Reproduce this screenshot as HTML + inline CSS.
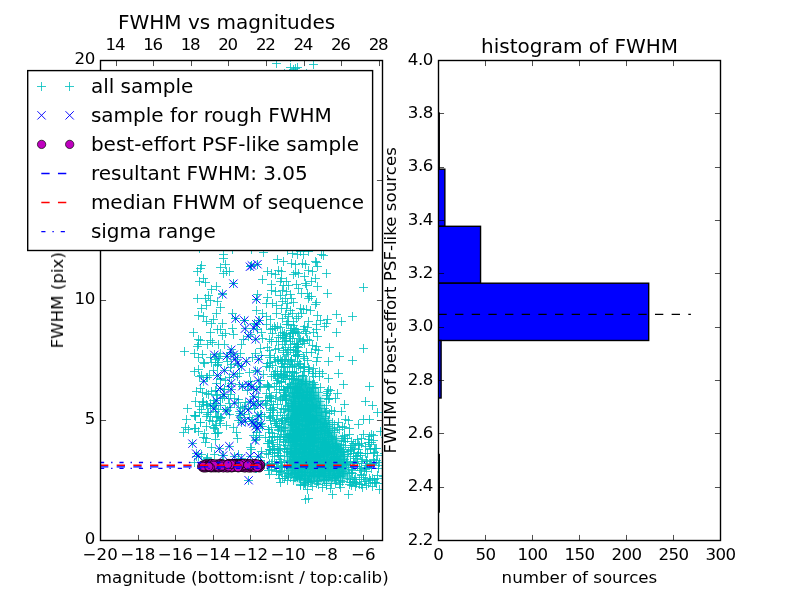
<!DOCTYPE html>
<html lang="en"><head><meta charset="utf-8"><title>FWHM vs magnitudes</title>
<style>html,body{margin:0;padding:0;background:#fff;overflow:hidden}svg text{font-family:'DejaVu Sans','Liberation Sans',sans-serif}</style></head>
<body>
<svg width="800" height="600" viewBox="0 0 800 600" style="display:block">
<rect x="0" y="0" width="800" height="600" fill="#fff"/>
<defs><clipPath id="c1"><rect x="100.50" y="60.50" width="282.00" height="480.00"/></clipPath><clipPath id="c2"><rect x="438.50" y="60.50" width="282.00" height="480.00"/></clipPath><filter id="bl" x="-20%" y="-20%" width="140%" height="140%"><feGaussianBlur stdDeviation="2.2"/></filter></defs>
<g clip-path="url(#c1)">
<path d="M288 396L290 383L300 376L312 383L320 396L325 413L334 432L343 450L348 462L349 478L330 482L296 481L287 473Z" fill="#00bfbf" opacity="0.95" filter="url(#bl)"/>
<path d="M272.0 63.5h9M276.5 59.0v9M309.0 64.5h9M313.5 60.0v9M286.0 67.5h9M290.5 63.0v9M291.0 68.5h9M295.5 64.0v9M293.0 67.5h9M297.5 63.0v9M289.0 69.5h9M293.5 65.0v9M280.0 73.5h9M284.5 69.0v9M302.0 73.5h9M306.5 69.0v9M286.0 57.5h9M290.5 53.0v9M197.0 265.5h9M201.5 261.0v9M193.0 271.5h9M197.5 267.0v9M196.0 268.5h9M200.5 264.0v9M219.0 254.5h9M223.5 250.0v9M219.0 258.5h9M223.5 254.0v9M216.0 267.5h9M220.5 263.0v9M221.0 264.5h9M225.5 260.0v9M219.0 273.5h9M223.5 269.0v9M222.0 271.5h9M226.5 267.0v9M225.0 271.5h9M229.5 267.0v9M195.0 281.5h9M199.5 277.0v9M199.0 278.5h9M203.5 274.0v9M201.0 282.5h9M205.5 278.0v9M212.0 286.5h9M216.5 282.0v9M207.0 289.5h9M211.5 285.0v9M193.0 298.5h9M197.5 294.0v9M201.0 298.5h9M205.5 294.0v9M204.0 295.5h9M208.5 291.0v9M206.0 300.5h9M210.5 296.0v9M202.0 305.5h9M206.5 301.0v9M197.0 308.5h9M201.5 304.0v9M194.0 315.5h9M198.5 311.0v9M199.0 316.5h9M203.5 312.0v9M213.0 301.5h9M217.5 297.0v9M216.0 307.5h9M220.5 303.0v9M212.0 313.5h9M216.5 309.0v9M209.0 319.5h9M213.5 315.0v9M202.0 321.5h9M206.5 317.0v9M218.0 293.5h9M222.5 289.0v9M229.0 283.5h9M233.5 279.0v9M228.0 313.5h9M232.5 309.0v9M231.0 318.5h9M235.5 314.0v9M246.0 266.5h9M250.5 262.0v9M253.0 264.5h9M257.5 260.0v9M259.0 252.5h9M263.5 248.0v9M273.0 259.5h9M277.5 255.0v9M263.0 271.5h9M267.5 267.0v9M267.0 273.5h9M271.5 269.0v9M271.0 274.5h9M275.5 270.0v9M274.0 270.5h9M278.5 266.0v9M258.0 279.5h9M262.5 275.0v9M267.0 284.5h9M271.5 280.0v9M267.0 290.5h9M271.5 286.0v9M271.0 291.5h9M275.5 287.0v9M253.0 294.5h9M257.5 290.0v9M252.0 299.5h9M256.5 295.0v9M263.0 297.5h9M267.5 293.0v9M262.0 303.5h9M266.5 299.0v9M268.0 303.5h9M272.5 299.0v9M272.0 305.5h9M276.5 301.0v9M252.0 310.5h9M256.5 306.0v9M258.0 313.5h9M262.5 309.0v9M262.0 316.5h9M266.5 312.0v9M266.0 319.5h9M270.5 315.0v9M272.0 313.5h9M276.5 309.0v9M240.0 320.5h9M244.5 316.0v9M254.0 320.5h9M258.5 316.0v9M195.0 248.5h9M199.5 244.0v9M247.0 265.5h9M251.5 261.0v9M228.0 249.5h9M232.5 245.0v9M247.0 249.5h9M251.5 245.0v9M293.0 254.5h9M297.5 250.0v9M299.0 254.5h9M303.5 250.0v9M296.0 251.5h9M300.5 247.0v9M317.0 254.5h9M321.5 250.0v9M319.0 255.5h9M323.5 251.0v9M279.0 261.5h9M283.5 257.0v9M287.0 263.5h9M291.5 259.0v9M291.0 264.5h9M295.5 260.0v9M298.0 263.5h9M302.5 259.0v9M301.0 264.5h9M305.5 260.0v9M311.0 261.5h9M315.5 257.0v9M312.0 262.5h9M316.5 258.0v9M313.0 266.5h9M317.5 262.0v9M277.0 271.5h9M281.5 267.0v9M291.0 272.5h9M295.5 268.0v9M289.0 274.5h9M293.5 270.0v9M294.0 273.5h9M298.5 269.0v9M304.0 270.5h9M308.5 266.0v9M308.0 271.5h9M312.5 267.0v9M300.0 276.5h9M304.5 272.0v9M322.0 273.5h9M326.5 269.0v9M311.0 278.5h9M315.5 274.0v9M307.0 281.5h9M311.5 277.0v9M276.0 281.5h9M280.5 277.0v9M282.0 281.5h9M286.5 277.0v9M279.0 285.5h9M283.5 281.0v9M284.0 285.5h9M288.5 281.0v9M292.0 284.5h9M296.5 280.0v9M294.0 288.5h9M298.5 284.0v9M301.0 283.5h9M305.5 279.0v9M302.0 285.5h9M306.5 281.0v9M313.0 286.5h9M317.5 282.0v9M359.0 287.5h9M363.5 283.0v9M323.0 293.5h9M327.5 289.0v9M278.0 290.5h9M282.5 286.0v9M282.0 291.5h9M286.5 287.0v9M286.0 294.5h9M290.5 290.0v9M287.0 298.5h9M291.5 294.0v9M281.0 298.5h9M285.5 294.0v9M278.0 301.5h9M282.5 297.0v9M283.0 303.5h9M287.5 299.0v9M289.0 302.5h9M293.5 298.0v9M297.0 293.5h9M301.5 289.0v9M303.0 293.5h9M307.5 289.0v9M305.0 296.5h9M309.5 292.0v9M307.0 296.5h9M311.5 292.0v9M304.0 298.5h9M308.5 294.0v9M312.0 302.5h9M316.5 298.0v9M311.0 304.5h9M315.5 300.0v9M277.0 308.5h9M281.5 304.0v9M282.0 308.5h9M286.5 304.0v9M286.0 310.5h9M290.5 306.0v9M281.0 314.5h9M285.5 310.0v9M278.0 318.5h9M282.5 314.0v9M284.0 316.5h9M288.5 312.0v9M288.0 313.5h9M292.5 309.0v9M296.0 308.5h9M300.5 304.0v9M299.0 309.5h9M303.5 305.0v9M302.0 309.5h9M306.5 305.0v9M297.0 313.5h9M301.5 309.0v9M294.0 316.5h9M298.5 312.0v9M306.0 310.5h9M310.5 306.0v9M313.0 315.5h9M317.5 311.0v9M332.0 314.5h9M336.5 310.0v9M348.0 316.5h9M352.5 312.0v9M316.0 320.5h9M320.5 316.0v9M323.0 319.5h9M327.5 315.0v9M337.0 321.5h9M341.5 317.0v9M304.0 321.5h9M308.5 317.0v9M283.0 250.5h9M287.5 246.0v9M288.0 253.5h9M292.5 249.0v9M304.0 251.5h9M308.5 247.0v9M277.0 278.5h9M281.5 274.0v9M276.0 295.5h9M280.5 291.0v9M292.0 318.5h9M296.5 314.0v9M289.0 321.5h9M293.5 317.0v9M283.0 321.5h9M287.5 317.0v9M189.0 332.5h9M193.5 328.0v9M206.0 332.5h9M210.5 328.0v9M213.0 329.5h9M217.5 325.0v9M207.0 323.5h9M211.5 319.0v9M216.0 329.5h9M220.5 325.0v9M221.0 333.5h9M225.5 329.0v9M218.0 323.5h9M222.5 319.0v9M229.0 334.5h9M233.5 330.0v9M228.0 328.5h9M232.5 324.0v9M250.0 323.5h9M254.5 319.0v9M246.0 334.5h9M250.5 330.0v9M253.0 329.5h9M257.5 325.0v9M262.0 324.5h9M266.5 320.0v9M257.0 332.5h9M261.5 328.0v9M271.0 328.5h9M275.5 324.0v9M266.0 329.5h9M270.5 325.0v9M268.0 328.5h9M272.5 324.0v9M268.0 333.5h9M272.5 329.0v9M273.0 326.5h9M277.5 322.0v9M270.0 326.5h9M274.5 322.0v9M194.0 339.5h9M198.5 335.0v9M196.0 340.5h9M200.5 336.0v9M194.0 344.5h9M198.5 340.0v9M193.0 346.5h9M197.5 342.0v9M203.0 344.5h9M207.5 340.0v9M206.0 340.5h9M210.5 336.0v9M208.0 342.5h9M212.5 338.0v9M218.0 335.5h9M222.5 331.0v9M214.0 344.5h9M218.5 340.0v9M220.0 344.5h9M224.5 340.0v9M237.0 344.5h9M241.5 340.0v9M239.0 339.5h9M243.5 335.0v9M258.0 338.5h9M262.5 334.0v9M263.0 347.5h9M267.5 343.0v9M274.0 341.5h9M278.5 337.0v9M274.0 337.5h9M278.5 333.0v9M267.0 341.5h9M271.5 337.0v9M272.0 341.5h9M276.5 337.0v9M265.0 339.5h9M269.5 335.0v9M180.0 351.5h9M184.5 347.0v9M190.0 353.5h9M194.5 349.0v9M194.0 357.5h9M198.5 353.0v9M198.0 354.5h9M202.5 350.0v9M206.0 357.5h9M210.5 353.0v9M212.0 356.5h9M216.5 352.0v9M211.0 359.5h9M215.5 355.0v9M214.0 358.5h9M218.5 354.0v9M216.0 353.5h9M220.5 349.0v9M223.0 356.5h9M227.5 352.0v9M215.0 356.5h9M219.5 352.0v9M226.0 352.5h9M230.5 348.0v9M236.0 353.5h9M240.5 349.0v9M233.0 357.5h9M237.5 353.0v9M248.0 357.5h9M252.5 353.0v9M251.0 353.5h9M255.5 349.0v9M256.0 348.5h9M260.5 344.0v9M257.0 355.5h9M261.5 351.0v9M273.0 359.5h9M277.5 355.0v9M265.0 350.5h9M269.5 346.0v9M271.0 349.5h9M275.5 345.0v9M266.0 355.5h9M270.5 351.0v9M265.0 357.5h9M269.5 353.0v9M274.0 348.5h9M278.5 344.0v9M270.0 357.5h9M274.5 353.0v9M200.0 363.5h9M204.5 359.0v9M190.0 371.5h9M194.5 367.0v9M199.0 362.5h9M203.5 358.0v9M194.0 369.5h9M198.5 365.0v9M211.0 362.5h9M215.5 358.0v9M209.0 370.5h9M213.5 366.0v9M207.0 362.5h9M211.5 358.0v9M213.0 364.5h9M217.5 360.0v9M223.0 361.5h9M227.5 357.0v9M213.0 365.5h9M217.5 361.0v9M214.0 362.5h9M218.5 358.0v9M226.0 367.5h9M230.5 363.0v9M234.0 365.5h9M238.5 361.0v9M227.0 364.5h9M231.5 360.0v9M245.0 372.5h9M249.5 368.0v9M263.0 363.5h9M267.5 359.0v9M251.0 370.5h9M255.5 366.0v9M262.0 366.5h9M266.5 362.0v9M273.0 371.5h9M277.5 367.0v9M271.0 371.5h9M275.5 367.0v9M263.0 363.5h9M267.5 359.0v9M266.0 362.5h9M270.5 358.0v9M274.0 360.5h9M278.5 356.0v9M271.0 361.5h9M275.5 357.0v9M268.0 365.5h9M272.5 361.0v9M265.0 367.5h9M269.5 363.0v9M195.0 376.5h9M199.5 372.0v9M197.0 375.5h9M201.5 371.0v9M203.0 377.5h9M207.5 373.0v9M205.0 375.5h9M209.5 371.0v9M212.0 383.5h9M216.5 379.0v9M202.0 377.5h9M206.5 373.0v9M216.0 378.5h9M220.5 374.0v9M216.0 379.5h9M220.5 375.0v9M225.0 377.5h9M229.5 373.0v9M221.0 380.5h9M225.5 376.0v9M235.0 373.5h9M239.5 369.0v9M235.0 384.5h9M239.5 380.0v9M233.0 376.5h9M237.5 372.0v9M246.0 381.5h9M250.5 377.0v9M259.0 374.5h9M263.5 370.0v9M263.0 384.5h9M267.5 380.0v9M256.0 380.5h9M260.5 376.0v9M263.0 385.5h9M267.5 381.0v9M273.0 380.5h9M277.5 376.0v9M273.0 375.5h9M277.5 371.0v9M267.0 376.5h9M271.5 372.0v9M270.0 374.5h9M274.5 370.0v9M274.0 378.5h9M278.5 374.0v9M269.0 374.5h9M273.5 370.0v9M272.0 383.5h9M276.5 379.0v9M271.0 376.5h9M275.5 372.0v9M273.0 374.5h9M277.5 370.0v9M198.0 392.5h9M202.5 388.0v9M192.0 391.5h9M196.5 387.0v9M196.0 388.5h9M200.5 384.0v9M211.0 390.5h9M215.5 386.0v9M212.0 395.5h9M216.5 391.0v9M202.0 393.5h9M206.5 389.0v9M204.0 394.5h9M208.5 390.0v9M207.0 391.5h9M211.5 387.0v9M224.0 386.5h9M228.5 382.0v9M220.0 389.5h9M224.5 385.0v9M213.0 394.5h9M217.5 390.0v9M220.0 396.5h9M224.5 392.0v9M220.0 389.5h9M224.5 385.0v9M238.0 386.5h9M242.5 382.0v9M226.0 394.5h9M230.5 390.0v9M243.0 390.5h9M247.5 386.0v9M249.0 389.5h9M253.5 385.0v9M262.0 393.5h9M266.5 389.0v9M255.0 386.5h9M259.5 382.0v9M254.0 397.5h9M258.5 393.0v9M256.0 387.5h9M260.5 383.0v9M267.0 396.5h9M271.5 392.0v9M265.0 395.5h9M269.5 391.0v9M265.0 397.5h9M269.5 393.0v9M270.0 386.5h9M274.5 382.0v9M275.0 389.5h9M279.5 385.0v9M272.0 392.5h9M276.5 388.0v9M264.0 386.5h9M268.5 382.0v9M265.0 387.5h9M269.5 383.0v9M264.0 386.5h9M268.5 382.0v9M275.0 386.5h9M279.5 382.0v9M282.0 324.5h9M286.5 320.0v9M278.0 332.5h9M282.5 328.0v9M287.0 328.5h9M291.5 324.0v9M276.0 335.5h9M280.5 331.0v9M276.0 327.5h9M280.5 323.0v9M282.0 334.5h9M286.5 330.0v9M286.0 330.5h9M290.5 326.0v9M280.0 333.5h9M284.5 329.0v9M286.0 333.5h9M290.5 329.0v9M284.0 324.5h9M288.5 320.0v9M292.0 329.5h9M296.5 325.0v9M294.0 333.5h9M298.5 329.0v9M291.0 331.5h9M295.5 327.0v9M293.0 332.5h9M297.5 328.0v9M290.0 328.5h9M294.5 324.0v9M289.0 325.5h9M293.5 321.0v9M300.0 326.5h9M304.5 322.0v9M299.0 329.5h9M303.5 325.0v9M288.0 332.5h9M292.5 328.0v9M289.0 333.5h9M293.5 329.0v9M301.0 331.5h9M305.5 327.0v9M303.0 327.5h9M307.5 323.0v9M312.0 329.5h9M316.5 325.0v9M309.0 332.5h9M313.5 328.0v9M302.0 333.5h9M306.5 329.0v9M312.0 324.5h9M316.5 320.0v9M320.0 326.5h9M324.5 322.0v9M322.0 323.5h9M326.5 319.0v9M332.0 332.5h9M336.5 328.0v9M285.0 336.5h9M289.5 332.0v9M286.0 338.5h9M290.5 334.0v9M286.0 341.5h9M290.5 337.0v9M278.0 344.5h9M282.5 340.0v9M286.0 344.5h9M290.5 340.0v9M288.0 338.5h9M292.5 334.0v9M278.0 337.5h9M282.5 333.0v9M282.0 340.5h9M286.5 336.0v9M280.0 341.5h9M284.5 337.0v9M279.0 335.5h9M283.5 331.0v9M281.0 338.5h9M285.5 334.0v9M281.0 347.5h9M285.5 343.0v9M290.0 343.5h9M294.5 339.0v9M296.0 339.5h9M300.5 335.0v9M294.0 347.5h9M298.5 343.0v9M292.0 344.5h9M296.5 340.0v9M299.0 340.5h9M303.5 336.0v9M300.0 343.5h9M304.5 339.0v9M294.0 344.5h9M298.5 340.0v9M293.0 344.5h9M297.5 340.0v9M291.0 347.5h9M295.5 343.0v9M295.0 338.5h9M299.5 334.0v9M293.0 346.5h9M297.5 342.0v9M298.0 341.5h9M302.5 337.0v9M305.0 340.5h9M309.5 336.0v9M313.0 336.5h9M317.5 332.0v9M312.0 346.5h9M316.5 342.0v9M303.0 339.5h9M307.5 335.0v9M308.0 345.5h9M312.5 341.0v9M325.0 347.5h9M329.5 343.0v9M279.0 350.5h9M283.5 346.0v9M282.0 354.5h9M286.5 350.0v9M284.0 349.5h9M288.5 345.0v9M284.0 359.5h9M288.5 355.0v9M287.0 359.5h9M291.5 355.0v9M287.0 360.5h9M291.5 356.0v9M276.0 359.5h9M280.5 355.0v9M279.0 352.5h9M283.5 348.0v9M281.0 359.5h9M285.5 355.0v9M283.0 352.5h9M287.5 348.0v9M280.0 359.5h9M284.5 355.0v9M286.0 349.5h9M290.5 345.0v9M291.0 352.5h9M295.5 348.0v9M291.0 355.5h9M295.5 351.0v9M291.0 355.5h9M295.5 351.0v9M300.0 358.5h9M304.5 354.0v9M289.0 350.5h9M293.5 346.0v9M293.0 356.5h9M297.5 352.0v9M293.0 351.5h9M297.5 347.0v9M292.0 350.5h9M296.5 346.0v9M299.0 356.5h9M303.5 352.0v9M293.0 356.5h9M297.5 352.0v9M294.0 354.5h9M298.5 350.0v9M293.0 354.5h9M297.5 350.0v9M313.0 357.5h9M317.5 353.0v9M311.0 349.5h9M315.5 345.0v9M307.0 352.5h9M311.5 348.0v9M302.0 352.5h9M306.5 348.0v9M314.0 350.5h9M318.5 346.0v9M335.0 356.5h9M339.5 352.0v9M359.0 348.5h9M363.5 344.0v9M278.0 360.5h9M282.5 356.0v9M277.0 361.5h9M281.5 357.0v9M288.0 371.5h9M292.5 367.0v9M278.0 363.5h9M282.5 359.0v9M288.0 367.5h9M292.5 363.0v9M280.0 366.5h9M284.5 362.0v9M279.0 367.5h9M283.5 363.0v9M285.0 366.5h9M289.5 362.0v9M286.0 361.5h9M290.5 357.0v9M283.0 372.5h9M287.5 368.0v9M277.0 366.5h9M281.5 362.0v9M283.0 364.5h9M287.5 360.0v9M288.0 366.5h9M292.5 362.0v9M281.0 371.5h9M285.5 367.0v9M288.0 371.5h9M292.5 367.0v9M290.0 365.5h9M294.5 361.0v9M294.0 366.5h9M298.5 362.0v9M288.0 364.5h9M292.5 360.0v9M292.0 372.5h9M296.5 368.0v9M299.0 367.5h9M303.5 363.0v9M300.0 371.5h9M304.5 367.0v9M293.0 361.5h9M297.5 357.0v9M296.0 364.5h9M300.5 360.0v9M288.0 372.5h9M292.5 368.0v9M300.0 367.5h9M304.5 363.0v9M296.0 368.5h9M300.5 364.0v9M300.0 366.5h9M304.5 362.0v9M295.0 363.5h9M299.5 359.0v9M304.0 367.5h9M308.5 363.0v9M303.0 360.5h9M307.5 356.0v9M305.0 369.5h9M309.5 365.0v9M304.0 371.5h9M308.5 367.0v9M309.0 368.5h9M313.5 364.0v9M312.0 361.5h9M316.5 357.0v9M315.0 371.5h9M319.5 367.0v9M324.0 361.5h9M328.5 357.0v9M348.0 360.5h9M352.5 356.0v9M277.0 374.5h9M281.5 370.0v9M279.0 377.5h9M283.5 373.0v9M287.0 378.5h9M291.5 374.0v9M277.0 376.5h9M281.5 372.0v9M276.0 373.5h9M280.5 369.0v9M281.0 379.5h9M285.5 375.0v9M279.0 377.5h9M283.5 373.0v9M277.0 381.5h9M281.5 377.0v9M280.0 375.5h9M284.5 371.0v9M282.0 375.5h9M286.5 371.0v9M279.0 374.5h9M283.5 370.0v9M285.0 376.5h9M289.5 372.0v9M287.0 378.5h9M291.5 374.0v9M277.0 381.5h9M281.5 377.0v9M285.0 384.5h9M289.5 380.0v9M277.0 382.5h9M281.5 378.0v9M299.0 376.5h9M303.5 372.0v9M294.0 380.5h9M298.5 376.0v9M291.0 383.5h9M295.5 379.0v9M297.0 383.5h9M301.5 379.0v9M294.0 379.5h9M298.5 375.0v9M290.0 376.5h9M294.5 372.0v9M297.0 384.5h9M301.5 380.0v9M290.0 373.5h9M294.5 369.0v9M289.0 378.5h9M293.5 374.0v9M298.0 375.5h9M302.5 371.0v9M294.0 379.5h9M298.5 375.0v9M298.0 375.5h9M302.5 371.0v9M288.0 379.5h9M292.5 375.0v9M292.0 376.5h9M296.5 372.0v9M298.0 381.5h9M302.5 377.0v9M289.0 379.5h9M293.5 375.0v9M310.0 384.5h9M314.5 380.0v9M301.0 383.5h9M305.5 379.0v9M301.0 381.5h9M305.5 377.0v9M308.0 384.5h9M312.5 380.0v9M308.0 373.5h9M312.5 369.0v9M309.0 376.5h9M313.5 372.0v9M311.0 373.5h9M315.5 369.0v9M305.0 381.5h9M309.5 377.0v9M302.0 381.5h9M306.5 377.0v9M309.0 382.5h9M313.5 378.0v9M324.0 378.5h9M328.5 374.0v9M315.0 376.5h9M319.5 372.0v9M318.0 373.5h9M322.5 369.0v9M334.0 373.5h9M338.5 369.0v9M339.0 384.5h9M343.5 380.0v9M286.0 388.5h9M290.5 384.0v9M280.0 395.5h9M284.5 391.0v9M283.0 388.5h9M287.5 384.0v9M281.0 396.5h9M285.5 392.0v9M276.0 397.5h9M280.5 393.0v9M283.0 387.5h9M287.5 383.0v9M286.0 386.5h9M290.5 382.0v9M281.0 392.5h9M285.5 388.0v9M279.0 396.5h9M283.5 392.0v9M284.0 387.5h9M288.5 383.0v9M277.0 386.5h9M281.5 382.0v9M283.0 387.5h9M287.5 383.0v9M282.0 395.5h9M286.5 391.0v9M286.0 386.5h9M290.5 382.0v9M280.0 390.5h9M284.5 386.0v9M280.0 390.5h9M284.5 386.0v9M281.0 394.5h9M285.5 390.0v9M279.0 389.5h9M283.5 385.0v9M293.0 387.5h9M297.5 383.0v9M296.0 390.5h9M300.5 386.0v9M299.0 395.5h9M303.5 391.0v9M291.0 388.5h9M295.5 384.0v9M298.0 392.5h9M302.5 388.0v9M288.0 393.5h9M292.5 389.0v9M293.0 395.5h9M297.5 391.0v9M297.0 397.5h9M301.5 393.0v9M297.0 396.5h9M301.5 392.0v9M292.0 389.5h9M296.5 385.0v9M289.0 396.5h9M293.5 392.0v9M290.0 392.5h9M294.5 388.0v9M294.0 395.5h9M298.5 391.0v9M293.0 387.5h9M297.5 383.0v9M293.0 386.5h9M297.5 382.0v9M292.0 393.5h9M296.5 389.0v9M289.0 397.5h9M293.5 393.0v9M295.0 389.5h9M299.5 385.0v9M311.0 387.5h9M315.5 383.0v9M305.0 397.5h9M309.5 393.0v9M303.0 394.5h9M307.5 390.0v9M302.0 392.5h9M306.5 388.0v9M309.0 388.5h9M313.5 384.0v9M305.0 392.5h9M309.5 388.0v9M308.0 387.5h9M312.5 383.0v9M306.0 397.5h9M310.5 393.0v9M305.0 395.5h9M309.5 391.0v9M303.0 391.5h9M307.5 387.0v9M307.0 392.5h9M311.5 388.0v9M309.0 395.5h9M313.5 391.0v9M322.0 395.5h9M326.5 391.0v9M324.0 389.5h9M328.5 385.0v9M323.0 391.5h9M327.5 387.0v9M316.0 387.5h9M320.5 383.0v9M323.0 393.5h9M327.5 389.0v9M314.0 392.5h9M318.5 388.0v9M326.0 390.5h9M330.5 386.0v9M333.0 393.5h9M337.5 389.0v9M365.0 386.5h9M369.5 382.0v9M183.0 408.5h9M187.5 404.0v9M198.0 402.5h9M202.5 398.0v9M195.0 406.5h9M199.5 402.0v9M199.0 404.5h9M203.5 400.0v9M199.0 401.5h9M203.5 397.0v9M191.0 401.5h9M195.5 397.0v9M197.0 409.5h9M201.5 405.0v9M206.0 406.5h9M210.5 402.0v9M202.0 404.5h9M206.5 400.0v9M206.0 403.5h9M210.5 399.0v9M203.0 405.5h9M207.5 401.0v9M209.0 405.5h9M213.5 401.0v9M210.0 403.5h9M214.5 399.0v9M211.0 405.5h9M215.5 401.0v9M212.0 403.5h9M216.5 399.0v9M209.0 400.5h9M213.5 396.0v9M214.0 409.5h9M218.5 405.0v9M218.0 398.5h9M222.5 394.0v9M221.0 409.5h9M225.5 405.0v9M223.0 410.5h9M227.5 406.0v9M225.0 403.5h9M229.5 399.0v9M216.0 398.5h9M220.5 394.0v9M216.0 405.5h9M220.5 401.0v9M224.0 398.5h9M228.5 394.0v9M236.0 407.5h9M240.5 403.0v9M234.0 399.5h9M238.5 395.0v9M226.0 407.5h9M230.5 403.0v9M234.0 402.5h9M238.5 398.0v9M230.0 398.5h9M234.5 394.0v9M238.0 408.5h9M242.5 404.0v9M250.0 408.5h9M254.5 404.0v9M244.0 408.5h9M248.5 404.0v9M240.0 406.5h9M244.5 402.0v9M241.0 402.5h9M245.5 398.0v9M261.0 403.5h9M265.5 399.0v9M262.0 405.5h9M266.5 401.0v9M254.0 401.5h9M258.5 397.0v9M251.0 405.5h9M255.5 401.0v9M261.0 400.5h9M265.5 396.0v9M269.0 410.5h9M273.5 406.0v9M268.0 409.5h9M272.5 405.0v9M273.0 404.5h9M277.5 400.0v9M271.0 398.5h9M275.5 394.0v9M269.0 407.5h9M273.5 403.0v9M266.0 398.5h9M270.5 394.0v9M263.0 400.5h9M267.5 396.0v9M266.0 408.5h9M270.5 404.0v9M269.0 404.5h9M273.5 400.0v9M267.0 401.5h9M271.5 397.0v9M182.0 419.5h9M186.5 415.0v9M190.0 415.5h9M194.5 411.0v9M196.0 422.5h9M200.5 418.0v9M191.0 415.5h9M195.5 411.0v9M195.0 412.5h9M199.5 408.0v9M196.0 422.5h9M200.5 418.0v9M191.0 416.5h9M195.5 412.0v9M202.0 416.5h9M206.5 412.0v9M213.0 417.5h9M217.5 413.0v9M203.0 414.5h9M207.5 410.0v9M208.0 421.5h9M212.5 417.0v9M206.0 416.5h9M210.5 412.0v9M211.0 411.5h9M215.5 407.0v9M212.0 416.5h9M216.5 412.0v9M205.0 420.5h9M209.5 416.0v9M204.0 412.5h9M208.5 408.0v9M216.0 418.5h9M220.5 414.0v9M214.0 416.5h9M218.5 412.0v9M216.0 417.5h9M220.5 413.0v9M215.0 420.5h9M219.5 416.0v9M225.0 414.5h9M229.5 410.0v9M217.0 417.5h9M221.5 413.0v9M235.0 411.5h9M239.5 407.0v9M234.0 420.5h9M238.5 416.0v9M235.0 415.5h9M239.5 411.0v9M236.0 417.5h9M240.5 413.0v9M240.0 414.5h9M244.5 410.0v9M245.0 417.5h9M249.5 413.0v9M248.0 419.5h9M252.5 415.0v9M253.0 415.5h9M257.5 411.0v9M260.0 416.5h9M264.5 412.0v9M253.0 422.5h9M257.5 418.0v9M256.0 414.5h9M260.5 410.0v9M257.0 414.5h9M261.5 410.0v9M266.0 418.5h9M270.5 414.0v9M273.0 415.5h9M277.5 411.0v9M265.0 416.5h9M269.5 412.0v9M268.0 415.5h9M272.5 411.0v9M266.0 420.5h9M270.5 416.0v9M266.0 410.5h9M270.5 406.0v9M272.0 419.5h9M276.5 415.0v9M266.0 412.5h9M270.5 408.0v9M270.0 421.5h9M274.5 417.0v9M266.0 417.5h9M270.5 413.0v9M179.0 432.5h9M183.5 428.0v9M181.0 427.5h9M185.5 423.0v9M184.0 429.5h9M188.5 425.0v9M191.0 428.5h9M195.5 424.0v9M200.0 433.5h9M204.5 429.0v9M194.0 431.5h9M198.5 427.0v9M190.0 428.5h9M194.5 424.0v9M212.0 425.5h9M216.5 421.0v9M213.0 433.5h9M217.5 429.0v9M209.0 427.5h9M213.5 423.0v9M202.0 426.5h9M206.5 422.0v9M210.0 428.5h9M214.5 424.0v9M211.0 425.5h9M215.5 421.0v9M211.0 433.5h9M215.5 429.0v9M222.0 425.5h9M226.5 421.0v9M216.0 423.5h9M220.5 419.0v9M214.0 432.5h9M218.5 428.0v9M232.0 432.5h9M236.5 428.0v9M229.0 427.5h9M233.5 423.0v9M249.0 435.5h9M253.5 431.0v9M252.0 432.5h9M256.5 428.0v9M257.0 423.5h9M261.5 419.0v9M258.0 426.5h9M262.5 422.0v9M255.0 435.5h9M259.5 431.0v9M272.0 423.5h9M276.5 419.0v9M272.0 423.5h9M276.5 419.0v9M274.0 430.5h9M278.5 426.0v9M271.0 423.5h9M275.5 419.0v9M264.0 429.5h9M268.5 425.0v9M268.0 433.5h9M272.5 429.0v9M267.0 427.5h9M271.5 423.0v9M264.0 429.5h9M268.5 425.0v9M275.0 426.5h9M279.5 422.0v9M273.0 425.5h9M277.5 421.0v9M274.0 429.5h9M278.5 425.0v9M265.0 432.5h9M269.5 428.0v9M199.0 437.5h9M203.5 433.0v9M202.0 438.5h9M206.5 434.0v9M207.0 447.5h9M211.5 443.0v9M211.0 439.5h9M215.5 435.0v9M201.0 442.5h9M205.5 438.0v9M233.0 438.5h9M237.5 434.0v9M246.0 447.5h9M250.5 443.0v9M252.0 439.5h9M256.5 435.0v9M261.0 437.5h9M265.5 433.0v9M252.0 437.5h9M256.5 433.0v9M273.0 437.5h9M277.5 433.0v9M264.0 443.5h9M268.5 439.0v9M273.0 444.5h9M277.5 440.0v9M268.0 446.5h9M272.5 442.0v9M265.0 441.5h9M269.5 437.0v9M268.0 442.5h9M272.5 438.0v9M265.0 437.5h9M269.5 433.0v9M275.0 439.5h9M279.5 435.0v9M269.0 446.5h9M273.5 442.0v9M267.0 440.5h9M271.5 436.0v9M270.0 436.5h9M274.5 432.0v9M263.0 443.5h9M267.5 439.0v9M268.0 436.5h9M272.5 432.0v9M192.0 456.5h9M196.5 452.0v9M197.0 454.5h9M201.5 450.0v9M203.0 458.5h9M207.5 454.0v9M203.0 457.5h9M207.5 453.0v9M202.0 459.5h9M206.5 455.0v9M210.0 454.5h9M214.5 450.0v9M218.0 455.5h9M222.5 451.0v9M234.0 454.5h9M238.5 450.0v9M247.0 449.5h9M251.5 445.0v9M256.0 457.5h9M260.5 453.0v9M256.0 460.5h9M260.5 456.0v9M257.0 451.5h9M261.5 447.0v9M262.0 453.5h9M266.5 449.0v9M270.0 456.5h9M274.5 452.0v9M274.0 450.5h9M278.5 446.0v9M274.0 455.5h9M278.5 451.0v9M268.0 452.5h9M272.5 448.0v9M275.0 459.5h9M279.5 455.0v9M270.0 452.5h9M274.5 448.0v9M275.0 448.5h9M279.5 444.0v9M264.0 454.5h9M268.5 450.0v9M270.0 448.5h9M274.5 444.0v9M265.0 449.5h9M269.5 445.0v9M266.0 450.5h9M270.5 446.0v9M265.0 449.5h9M269.5 445.0v9M268.0 449.5h9M272.5 445.0v9M273.0 453.5h9M277.5 449.0v9M252.0 468.5h9M256.5 464.0v9M260.0 464.5h9M264.5 460.0v9M251.0 468.5h9M255.5 464.0v9M272.0 471.5h9M276.5 467.0v9M272.0 467.5h9M276.5 463.0v9M267.0 463.5h9M271.5 459.0v9M264.0 470.5h9M268.5 466.0v9M270.0 464.5h9M274.5 460.0v9M265.0 464.5h9M269.5 460.0v9M272.0 463.5h9M276.5 459.0v9M264.0 465.5h9M268.5 461.0v9M267.0 469.5h9M271.5 465.0v9M270.0 466.5h9M274.5 462.0v9M275.0 471.5h9M279.5 467.0v9M265.0 463.5h9M269.5 459.0v9M268.0 461.5h9M272.5 457.0v9M272.0 470.5h9M276.5 466.0v9M279.0 409.5h9M283.5 405.0v9M282.0 400.5h9M286.5 396.0v9M283.0 406.5h9M287.5 402.0v9M284.0 410.5h9M288.5 406.0v9M287.0 403.5h9M291.5 399.0v9M281.0 398.5h9M285.5 394.0v9M281.0 400.5h9M285.5 396.0v9M277.0 408.5h9M281.5 404.0v9M276.0 399.5h9M280.5 395.0v9M284.0 405.5h9M288.5 401.0v9M281.0 408.5h9M285.5 404.0v9M278.0 400.5h9M282.5 396.0v9M282.0 399.5h9M286.5 395.0v9M284.0 409.5h9M288.5 405.0v9M298.0 409.5h9M302.5 405.0v9M289.0 403.5h9M293.5 399.0v9M299.0 408.5h9M303.5 404.0v9M295.0 406.5h9M299.5 402.0v9M291.0 401.5h9M295.5 397.0v9M289.0 409.5h9M293.5 405.0v9M292.0 410.5h9M296.5 406.0v9M288.0 407.5h9M292.5 403.0v9M295.0 398.5h9M299.5 394.0v9M296.0 406.5h9M300.5 402.0v9M297.0 406.5h9M301.5 402.0v9M296.0 407.5h9M300.5 403.0v9M293.0 409.5h9M297.5 405.0v9M294.0 401.5h9M298.5 397.0v9M300.0 401.5h9M304.5 397.0v9M294.0 406.5h9M298.5 402.0v9M298.0 401.5h9M302.5 397.0v9M288.0 405.5h9M292.5 401.0v9M295.0 407.5h9M299.5 403.0v9M291.0 408.5h9M295.5 404.0v9M298.0 408.5h9M302.5 404.0v9M297.0 406.5h9M301.5 402.0v9M295.0 408.5h9M299.5 404.0v9M291.0 406.5h9M295.5 402.0v9M298.0 407.5h9M302.5 403.0v9M290.0 401.5h9M294.5 397.0v9M312.0 407.5h9M316.5 403.0v9M302.0 404.5h9M306.5 400.0v9M311.0 408.5h9M315.5 404.0v9M307.0 399.5h9M311.5 395.0v9M303.0 398.5h9M307.5 394.0v9M303.0 398.5h9M307.5 394.0v9M309.0 406.5h9M313.5 402.0v9M306.0 409.5h9M310.5 405.0v9M302.0 400.5h9M306.5 396.0v9M308.0 404.5h9M312.5 400.0v9M302.0 409.5h9M306.5 405.0v9M308.0 405.5h9M312.5 401.0v9M305.0 405.5h9M309.5 401.0v9M301.0 401.5h9M305.5 397.0v9M308.0 405.5h9M312.5 401.0v9M307.0 398.5h9M311.5 394.0v9M305.0 410.5h9M309.5 406.0v9M312.0 408.5h9M316.5 404.0v9M301.0 398.5h9M305.5 394.0v9M303.0 408.5h9M307.5 404.0v9M303.0 400.5h9M307.5 396.0v9M304.0 407.5h9M308.5 403.0v9M320.0 408.5h9M324.5 404.0v9M314.0 398.5h9M318.5 394.0v9M324.0 399.5h9M328.5 395.0v9M322.0 405.5h9M326.5 401.0v9M316.0 401.5h9M320.5 397.0v9M322.0 398.5h9M326.5 394.0v9M325.0 398.5h9M329.5 394.0v9M315.0 405.5h9M319.5 401.0v9M327.0 410.5h9M331.5 406.0v9M331.0 398.5h9M335.5 394.0v9M340.0 404.5h9M344.5 400.0v9M361.0 401.5h9M365.5 397.0v9M368.0 405.5h9M372.5 401.0v9M284.0 419.5h9M288.5 415.0v9M280.0 415.5h9M284.5 411.0v9M286.0 421.5h9M290.5 417.0v9M281.0 422.5h9M285.5 418.0v9M278.0 420.5h9M282.5 416.0v9M287.0 417.5h9M291.5 413.0v9M284.0 411.5h9M288.5 407.0v9M286.0 419.5h9M290.5 415.0v9M283.0 417.5h9M287.5 413.0v9M277.0 421.5h9M281.5 417.0v9M282.0 418.5h9M286.5 414.0v9M278.0 418.5h9M282.5 414.0v9M278.0 420.5h9M282.5 416.0v9M276.0 412.5h9M280.5 408.0v9M291.0 415.5h9M295.5 411.0v9M299.0 410.5h9M303.5 406.0v9M295.0 410.5h9M299.5 406.0v9M293.0 414.5h9M297.5 410.0v9M290.0 416.5h9M294.5 412.0v9M292.0 413.5h9M296.5 409.0v9M296.0 413.5h9M300.5 409.0v9M300.0 413.5h9M304.5 409.0v9M300.0 412.5h9M304.5 408.0v9M300.0 411.5h9M304.5 407.0v9M288.0 411.5h9M292.5 407.0v9M297.0 413.5h9M301.5 409.0v9M291.0 418.5h9M295.5 414.0v9M288.0 417.5h9M292.5 413.0v9M293.0 412.5h9M297.5 408.0v9M299.0 415.5h9M303.5 411.0v9M292.0 419.5h9M296.5 415.0v9M299.0 413.5h9M303.5 409.0v9M290.0 422.5h9M294.5 418.0v9M293.0 417.5h9M297.5 413.0v9M294.0 420.5h9M298.5 416.0v9M293.0 419.5h9M297.5 415.0v9M295.0 411.5h9M299.5 407.0v9M294.0 421.5h9M298.5 417.0v9M295.0 415.5h9M299.5 411.0v9M288.0 419.5h9M292.5 415.0v9M293.0 414.5h9M297.5 410.0v9M293.0 415.5h9M297.5 411.0v9M305.0 414.5h9M309.5 410.0v9M306.0 411.5h9M310.5 407.0v9M303.0 415.5h9M307.5 411.0v9M312.0 415.5h9M316.5 411.0v9M307.0 421.5h9M311.5 417.0v9M311.0 419.5h9M315.5 415.0v9M308.0 417.5h9M312.5 413.0v9M303.0 412.5h9M307.5 408.0v9M301.0 411.5h9M305.5 407.0v9M308.0 418.5h9M312.5 414.0v9M301.0 420.5h9M305.5 416.0v9M306.0 417.5h9M310.5 413.0v9M301.0 421.5h9M305.5 417.0v9M302.0 413.5h9M306.5 409.0v9M306.0 416.5h9M310.5 412.0v9M307.0 422.5h9M311.5 418.0v9M301.0 418.5h9M305.5 414.0v9M306.0 420.5h9M310.5 416.0v9M309.0 420.5h9M313.5 416.0v9M311.0 420.5h9M315.5 416.0v9M302.0 417.5h9M306.5 413.0v9M310.0 420.5h9M314.5 416.0v9M312.0 415.5h9M316.5 411.0v9M301.0 419.5h9M305.5 415.0v9M304.0 418.5h9M308.5 414.0v9M301.0 414.5h9M305.5 410.0v9M321.0 412.5h9M325.5 408.0v9M317.0 412.5h9M321.5 408.0v9M324.0 420.5h9M328.5 416.0v9M321.0 416.5h9M325.5 412.0v9M325.0 413.5h9M329.5 409.0v9M322.0 411.5h9M326.5 407.0v9M321.0 412.5h9M325.5 408.0v9M313.0 421.5h9M317.5 417.0v9M316.0 422.5h9M320.5 418.0v9M321.0 418.5h9M325.5 414.0v9M334.0 422.5h9M338.5 418.0v9M328.0 422.5h9M332.5 418.0v9M330.0 411.5h9M334.5 407.0v9M337.0 411.5h9M341.5 407.0v9M344.0 420.5h9M348.5 416.0v9M341.0 419.5h9M345.5 415.0v9M359.0 419.5h9M363.5 415.0v9M365.0 419.5h9M369.5 415.0v9M373.0 412.5h9M377.5 408.0v9M288.0 434.5h9M292.5 430.0v9M279.0 434.5h9M283.5 430.0v9M287.0 424.5h9M291.5 420.0v9M285.0 435.5h9M289.5 431.0v9M286.0 424.5h9M290.5 420.0v9M281.0 430.5h9M285.5 426.0v9M280.0 427.5h9M284.5 423.0v9M277.0 423.5h9M281.5 419.0v9M279.0 428.5h9M283.5 424.0v9M283.0 434.5h9M287.5 430.0v9M277.0 427.5h9M281.5 423.0v9M286.0 433.5h9M290.5 429.0v9M277.0 431.5h9M281.5 427.0v9M289.0 434.5h9M293.5 430.0v9M291.0 430.5h9M295.5 426.0v9M294.0 429.5h9M298.5 425.0v9M291.0 427.5h9M295.5 423.0v9M292.0 430.5h9M296.5 426.0v9M293.0 430.5h9M297.5 426.0v9M295.0 431.5h9M299.5 427.0v9M300.0 429.5h9M304.5 425.0v9M295.0 430.5h9M299.5 426.0v9M295.0 428.5h9M299.5 424.0v9M291.0 429.5h9M295.5 425.0v9M291.0 431.5h9M295.5 427.0v9M299.0 433.5h9M303.5 429.0v9M298.0 425.5h9M302.5 421.0v9M288.0 425.5h9M292.5 421.0v9M295.0 424.5h9M299.5 420.0v9M289.0 435.5h9M293.5 431.0v9M292.0 423.5h9M296.5 419.0v9M294.0 431.5h9M298.5 427.0v9M294.0 424.5h9M298.5 420.0v9M294.0 423.5h9M298.5 419.0v9M297.0 434.5h9M301.5 430.0v9M289.0 430.5h9M293.5 426.0v9M298.0 431.5h9M302.5 427.0v9M290.0 423.5h9M294.5 419.0v9M294.0 423.5h9M298.5 419.0v9M298.0 429.5h9M302.5 425.0v9M292.0 432.5h9M296.5 428.0v9M303.0 429.5h9M307.5 425.0v9M307.0 424.5h9M311.5 420.0v9M311.0 431.5h9M315.5 427.0v9M303.0 428.5h9M307.5 424.0v9M304.0 434.5h9M308.5 430.0v9M309.0 434.5h9M313.5 430.0v9M310.0 432.5h9M314.5 428.0v9M304.0 433.5h9M308.5 429.0v9M305.0 433.5h9M309.5 429.0v9M309.0 429.5h9M313.5 425.0v9M303.0 430.5h9M307.5 426.0v9M308.0 431.5h9M312.5 427.0v9M301.0 426.5h9M305.5 422.0v9M308.0 433.5h9M312.5 429.0v9M303.0 434.5h9M307.5 430.0v9M313.0 424.5h9M317.5 420.0v9M310.0 427.5h9M314.5 423.0v9M302.0 425.5h9M306.5 421.0v9M305.0 423.5h9M309.5 419.0v9M309.0 428.5h9M313.5 424.0v9M305.0 433.5h9M309.5 429.0v9M313.0 428.5h9M317.5 424.0v9M304.0 430.5h9M308.5 426.0v9M306.0 434.5h9M310.5 430.0v9M304.0 424.5h9M308.5 420.0v9M301.0 425.5h9M305.5 421.0v9M302.0 434.5h9M306.5 430.0v9M309.0 430.5h9M313.5 426.0v9M325.0 430.5h9M329.5 426.0v9M322.0 424.5h9M326.5 420.0v9M317.0 430.5h9M321.5 426.0v9M323.0 426.5h9M327.5 422.0v9M319.0 426.5h9M323.5 422.0v9M317.0 430.5h9M321.5 426.0v9M324.0 435.5h9M328.5 431.0v9M320.0 423.5h9M324.5 419.0v9M316.0 431.5h9M320.5 427.0v9M325.0 424.5h9M329.5 420.0v9M323.0 433.5h9M327.5 429.0v9M314.0 434.5h9M318.5 430.0v9M320.0 433.5h9M324.5 429.0v9M321.0 431.5h9M325.5 427.0v9M324.0 432.5h9M328.5 428.0v9M318.0 427.5h9M322.5 423.0v9M338.0 426.5h9M342.5 422.0v9M330.0 424.5h9M334.5 420.0v9M330.0 430.5h9M334.5 426.0v9M328.0 428.5h9M332.5 424.0v9M333.0 427.5h9M337.5 423.0v9M335.0 429.5h9M339.5 425.0v9M330.0 432.5h9M334.5 428.0v9M345.0 428.5h9M349.5 424.0v9M340.0 435.5h9M344.5 431.0v9M340.0 427.5h9M344.5 423.0v9M345.0 434.5h9M349.5 430.0v9M354.0 424.5h9M358.5 420.0v9M359.0 434.5h9M363.5 430.0v9M369.0 435.5h9M373.5 431.0v9M367.0 434.5h9M371.5 430.0v9M376.0 431.5h9M380.5 427.0v9M287.0 438.5h9M291.5 434.0v9M286.0 442.5h9M290.5 438.0v9M280.0 436.5h9M284.5 432.0v9M284.0 440.5h9M288.5 436.0v9M282.0 437.5h9M286.5 433.0v9M276.0 436.5h9M280.5 432.0v9M284.0 437.5h9M288.5 433.0v9M279.0 442.5h9M283.5 438.0v9M279.0 441.5h9M283.5 437.0v9M281.0 445.5h9M285.5 441.0v9M281.0 439.5h9M285.5 435.0v9M288.0 437.5h9M292.5 433.0v9M296.0 443.5h9M300.5 439.0v9M292.0 444.5h9M296.5 440.0v9M297.0 441.5h9M301.5 437.0v9M292.0 436.5h9M296.5 432.0v9M299.0 447.5h9M303.5 443.0v9M292.0 439.5h9M296.5 435.0v9M296.0 445.5h9M300.5 441.0v9M299.0 445.5h9M303.5 441.0v9M297.0 443.5h9M301.5 439.0v9M288.0 441.5h9M292.5 437.0v9M297.0 439.5h9M301.5 435.0v9M291.0 440.5h9M295.5 436.0v9M295.0 435.5h9M299.5 431.0v9M297.0 444.5h9M301.5 440.0v9M291.0 438.5h9M295.5 434.0v9M290.0 440.5h9M294.5 436.0v9M300.0 440.5h9M304.5 436.0v9M300.0 437.5h9M304.5 433.0v9M291.0 441.5h9M295.5 437.0v9M290.0 436.5h9M294.5 432.0v9M296.0 439.5h9M300.5 435.0v9M297.0 438.5h9M301.5 434.0v9M292.0 446.5h9M296.5 442.0v9M295.0 437.5h9M299.5 433.0v9M293.0 436.5h9M297.5 432.0v9M289.0 442.5h9M293.5 438.0v9M289.0 438.5h9M293.5 434.0v9M289.0 436.5h9M293.5 432.0v9M306.0 437.5h9M310.5 433.0v9M304.0 440.5h9M308.5 436.0v9M303.0 437.5h9M307.5 433.0v9M302.0 447.5h9M306.5 443.0v9M305.0 441.5h9M309.5 437.0v9M310.0 445.5h9M314.5 441.0v9M309.0 446.5h9M313.5 442.0v9M307.0 437.5h9M311.5 433.0v9M308.0 441.5h9M312.5 437.0v9M311.0 438.5h9M315.5 434.0v9M309.0 435.5h9M313.5 431.0v9M305.0 439.5h9M309.5 435.0v9M302.0 445.5h9M306.5 441.0v9M311.0 438.5h9M315.5 434.0v9M309.0 446.5h9M313.5 442.0v9M308.0 440.5h9M312.5 436.0v9M309.0 440.5h9M313.5 436.0v9M308.0 443.5h9M312.5 439.0v9M304.0 443.5h9M308.5 439.0v9M307.0 442.5h9M311.5 438.0v9M304.0 444.5h9M308.5 440.0v9M302.0 441.5h9M306.5 437.0v9M307.0 435.5h9M311.5 431.0v9M310.0 442.5h9M314.5 438.0v9M301.0 446.5h9M305.5 442.0v9M309.0 446.5h9M313.5 442.0v9M309.0 441.5h9M313.5 437.0v9M310.0 439.5h9M314.5 435.0v9M318.0 439.5h9M322.5 435.0v9M317.0 447.5h9M321.5 443.0v9M319.0 441.5h9M323.5 437.0v9M318.0 439.5h9M322.5 435.0v9M316.0 447.5h9M320.5 443.0v9M322.0 441.5h9M326.5 437.0v9M320.0 445.5h9M324.5 441.0v9M318.0 439.5h9M322.5 435.0v9M319.0 441.5h9M323.5 437.0v9M323.0 446.5h9M327.5 442.0v9M324.0 444.5h9M328.5 440.0v9M320.0 437.5h9M324.5 433.0v9M325.0 446.5h9M329.5 442.0v9M320.0 444.5h9M324.5 440.0v9M324.0 439.5h9M328.5 435.0v9M320.0 447.5h9M324.5 443.0v9M316.0 437.5h9M320.5 433.0v9M325.0 446.5h9M329.5 442.0v9M314.0 442.5h9M318.5 438.0v9M321.0 444.5h9M325.5 440.0v9M321.0 442.5h9M325.5 438.0v9M321.0 443.5h9M325.5 439.0v9M327.0 437.5h9M331.5 433.0v9M329.0 447.5h9M333.5 443.0v9M331.0 443.5h9M335.5 439.0v9M338.0 436.5h9M342.5 432.0v9M328.0 439.5h9M332.5 435.0v9M337.0 444.5h9M341.5 440.0v9M327.0 436.5h9M331.5 432.0v9M328.0 446.5h9M332.5 442.0v9M331.0 446.5h9M335.5 442.0v9M336.0 447.5h9M340.5 443.0v9M332.0 438.5h9M336.5 434.0v9M332.0 446.5h9M336.5 442.0v9M337.0 440.5h9M341.5 436.0v9M332.0 445.5h9M336.5 441.0v9M343.0 438.5h9M347.5 434.0v9M341.0 441.5h9M345.5 437.0v9M341.0 445.5h9M345.5 441.0v9M346.0 447.5h9M350.5 443.0v9M347.0 441.5h9M351.5 437.0v9M340.0 438.5h9M344.5 434.0v9M349.0 443.5h9M353.5 439.0v9M339.0 441.5h9M343.5 437.0v9M348.0 445.5h9M352.5 441.0v9M361.0 446.5h9M365.5 442.0v9M357.0 443.5h9M361.5 439.0v9M351.0 443.5h9M355.5 439.0v9M357.0 438.5h9M361.5 434.0v9M354.0 444.5h9M358.5 440.0v9M353.0 439.5h9M357.5 435.0v9M355.0 445.5h9M359.5 441.0v9M365.0 436.5h9M369.5 432.0v9M365.0 444.5h9M369.5 440.0v9M364.0 442.5h9M368.5 438.0v9M369.0 440.5h9M373.5 436.0v9M367.0 442.5h9M371.5 438.0v9M364.0 439.5h9M368.5 435.0v9M381.0 437.5h9M385.5 433.0v9M282.0 451.5h9M286.5 447.0v9M276.0 449.5h9M280.5 445.0v9M280.0 456.5h9M284.5 452.0v9M286.0 454.5h9M290.5 450.0v9M276.0 455.5h9M280.5 451.0v9M287.0 448.5h9M291.5 444.0v9M280.0 448.5h9M284.5 444.0v9M283.0 449.5h9M287.5 445.0v9M287.0 453.5h9M291.5 449.0v9M283.0 452.5h9M287.5 448.0v9M280.0 448.5h9M284.5 444.0v9M286.0 451.5h9M290.5 447.0v9M291.0 452.5h9M295.5 448.0v9M290.0 451.5h9M294.5 447.0v9M292.0 460.5h9M296.5 456.0v9M299.0 451.5h9M303.5 447.0v9M298.0 448.5h9M302.5 444.0v9M295.0 458.5h9M299.5 454.0v9M291.0 450.5h9M295.5 446.0v9M298.0 456.5h9M302.5 452.0v9M300.0 449.5h9M304.5 445.0v9M290.0 448.5h9M294.5 444.0v9M292.0 448.5h9M296.5 444.0v9M296.0 449.5h9M300.5 445.0v9M294.0 454.5h9M298.5 450.0v9M289.0 456.5h9M293.5 452.0v9M300.0 452.5h9M304.5 448.0v9M294.0 452.5h9M298.5 448.0v9M300.0 458.5h9M304.5 454.0v9M300.0 452.5h9M304.5 448.0v9M292.0 448.5h9M296.5 444.0v9M289.0 459.5h9M293.5 455.0v9M295.0 453.5h9M299.5 449.0v9M290.0 459.5h9M294.5 455.0v9M288.0 456.5h9M292.5 452.0v9M295.0 457.5h9M299.5 453.0v9M297.0 456.5h9M301.5 452.0v9M295.0 453.5h9M299.5 449.0v9M298.0 449.5h9M302.5 445.0v9M292.0 457.5h9M296.5 453.0v9M312.0 456.5h9M316.5 452.0v9M301.0 458.5h9M305.5 454.0v9M313.0 453.5h9M317.5 449.0v9M305.0 452.5h9M309.5 448.0v9M308.0 450.5h9M312.5 446.0v9M302.0 460.5h9M306.5 456.0v9M307.0 454.5h9M311.5 450.0v9M304.0 448.5h9M308.5 444.0v9M301.0 448.5h9M305.5 444.0v9M309.0 457.5h9M313.5 453.0v9M312.0 460.5h9M316.5 456.0v9M302.0 448.5h9M306.5 444.0v9M309.0 451.5h9M313.5 447.0v9M312.0 454.5h9M316.5 450.0v9M306.0 453.5h9M310.5 449.0v9M304.0 455.5h9M308.5 451.0v9M303.0 460.5h9M307.5 456.0v9M311.0 458.5h9M315.5 454.0v9M312.0 456.5h9M316.5 452.0v9M312.0 457.5h9M316.5 453.0v9M306.0 448.5h9M310.5 444.0v9M307.0 454.5h9M311.5 450.0v9M310.0 458.5h9M314.5 454.0v9M308.0 449.5h9M312.5 445.0v9M302.0 458.5h9M306.5 454.0v9M312.0 453.5h9M316.5 449.0v9M301.0 449.5h9M305.5 445.0v9M302.0 459.5h9M306.5 455.0v9M318.0 453.5h9M322.5 449.0v9M323.0 451.5h9M327.5 447.0v9M320.0 455.5h9M324.5 451.0v9M318.0 449.5h9M322.5 445.0v9M318.0 449.5h9M322.5 445.0v9M317.0 453.5h9M321.5 449.0v9M315.0 460.5h9M319.5 456.0v9M322.0 459.5h9M326.5 455.0v9M325.0 451.5h9M329.5 447.0v9M315.0 460.5h9M319.5 456.0v9M319.0 456.5h9M323.5 452.0v9M324.0 452.5h9M328.5 448.0v9M320.0 451.5h9M324.5 447.0v9M316.0 448.5h9M320.5 444.0v9M316.0 451.5h9M320.5 447.0v9M322.0 454.5h9M326.5 450.0v9M323.0 451.5h9M327.5 447.0v9M316.0 455.5h9M320.5 451.0v9M316.0 457.5h9M320.5 453.0v9M318.0 451.5h9M322.5 447.0v9M322.0 450.5h9M326.5 446.0v9M322.0 452.5h9M326.5 448.0v9M314.0 455.5h9M318.5 451.0v9M321.0 449.5h9M325.5 445.0v9M319.0 453.5h9M323.5 449.0v9M322.0 450.5h9M326.5 446.0v9M320.0 460.5h9M324.5 456.0v9M313.0 456.5h9M317.5 452.0v9M330.0 454.5h9M334.5 450.0v9M329.0 453.5h9M333.5 449.0v9M332.0 459.5h9M336.5 455.0v9M336.0 459.5h9M340.5 455.0v9M338.0 452.5h9M342.5 448.0v9M335.0 459.5h9M339.5 455.0v9M327.0 457.5h9M331.5 453.0v9M333.0 450.5h9M337.5 446.0v9M333.0 456.5h9M337.5 452.0v9M334.0 448.5h9M338.5 444.0v9M337.0 452.5h9M341.5 448.0v9M336.0 449.5h9M340.5 445.0v9M333.0 448.5h9M337.5 444.0v9M332.0 456.5h9M336.5 452.0v9M330.0 456.5h9M334.5 452.0v9M331.0 448.5h9M335.5 444.0v9M326.0 448.5h9M330.5 444.0v9M330.0 459.5h9M334.5 455.0v9M330.0 458.5h9M334.5 454.0v9M346.0 456.5h9M350.5 452.0v9M346.0 450.5h9M350.5 446.0v9M349.0 453.5h9M353.5 449.0v9M350.0 448.5h9M354.5 444.0v9M339.0 449.5h9M343.5 445.0v9M347.0 449.5h9M351.5 445.0v9M343.0 454.5h9M347.5 450.0v9M344.0 451.5h9M348.5 447.0v9M349.0 453.5h9M353.5 449.0v9M340.0 454.5h9M344.5 450.0v9M339.0 456.5h9M343.5 452.0v9M340.0 459.5h9M344.5 455.0v9M339.0 451.5h9M343.5 447.0v9M353.0 455.5h9M357.5 451.0v9M356.0 453.5h9M360.5 449.0v9M356.0 455.5h9M360.5 451.0v9M354.0 452.5h9M358.5 448.0v9M354.0 449.5h9M358.5 445.0v9M358.0 459.5h9M362.5 455.0v9M362.0 460.5h9M366.5 456.0v9M352.0 456.5h9M356.5 452.0v9M351.0 458.5h9M355.5 454.0v9M361.0 453.5h9M365.5 449.0v9M363.0 453.5h9M367.5 449.0v9M370.0 452.5h9M374.5 448.0v9M373.0 455.5h9M377.5 451.0v9M369.0 453.5h9M373.5 449.0v9M372.0 448.5h9M376.5 444.0v9M371.0 448.5h9M375.5 444.0v9M366.0 448.5h9M370.5 444.0v9M369.0 459.5h9M373.5 455.0v9M366.0 449.5h9M370.5 445.0v9M370.0 448.5h9M374.5 444.0v9M380.0 453.5h9M384.5 449.0v9M276.0 471.5h9M280.5 467.0v9M280.0 467.5h9M284.5 463.0v9M277.0 472.5h9M281.5 468.0v9M278.0 466.5h9M282.5 462.0v9M277.0 462.5h9M281.5 458.0v9M277.0 465.5h9M281.5 461.0v9M277.0 466.5h9M281.5 462.0v9M283.0 462.5h9M287.5 458.0v9M285.0 461.5h9M289.5 457.0v9M283.0 470.5h9M287.5 466.0v9M283.0 460.5h9M287.5 456.0v9M276.0 461.5h9M280.5 457.0v9M290.0 467.5h9M294.5 463.0v9M300.0 465.5h9M304.5 461.0v9M298.0 463.5h9M302.5 459.0v9M300.0 465.5h9M304.5 461.0v9M290.0 462.5h9M294.5 458.0v9M289.0 461.5h9M293.5 457.0v9M300.0 469.5h9M304.5 465.0v9M290.0 468.5h9M294.5 464.0v9M294.0 461.5h9M298.5 457.0v9M300.0 463.5h9M304.5 459.0v9M295.0 465.5h9M299.5 461.0v9M294.0 472.5h9M298.5 468.0v9M298.0 463.5h9M302.5 459.0v9M297.0 466.5h9M301.5 462.0v9M291.0 467.5h9M295.5 463.0v9M291.0 470.5h9M295.5 466.0v9M292.0 461.5h9M296.5 457.0v9M299.0 462.5h9M303.5 458.0v9M297.0 471.5h9M301.5 467.0v9M297.0 472.5h9M301.5 468.0v9M291.0 465.5h9M295.5 461.0v9M296.0 461.5h9M300.5 457.0v9M300.0 468.5h9M304.5 464.0v9M296.0 467.5h9M300.5 463.0v9M294.0 462.5h9M298.5 458.0v9M289.0 463.5h9M293.5 459.0v9M288.0 468.5h9M292.5 464.0v9M290.0 472.5h9M294.5 468.0v9M302.0 464.5h9M306.5 460.0v9M311.0 468.5h9M315.5 464.0v9M306.0 469.5h9M310.5 465.0v9M306.0 462.5h9M310.5 458.0v9M313.0 471.5h9M317.5 467.0v9M310.0 464.5h9M314.5 460.0v9M307.0 461.5h9M311.5 457.0v9M301.0 472.5h9M305.5 468.0v9M306.0 463.5h9M310.5 459.0v9M310.0 467.5h9M314.5 463.0v9M309.0 461.5h9M313.5 457.0v9M306.0 465.5h9M310.5 461.0v9M304.0 462.5h9M308.5 458.0v9M311.0 469.5h9M315.5 465.0v9M308.0 463.5h9M312.5 459.0v9M308.0 465.5h9M312.5 461.0v9M301.0 468.5h9M305.5 464.0v9M309.0 472.5h9M313.5 468.0v9M311.0 461.5h9M315.5 457.0v9M304.0 461.5h9M308.5 457.0v9M301.0 466.5h9M305.5 462.0v9M303.0 461.5h9M307.5 457.0v9M308.0 472.5h9M312.5 468.0v9M311.0 461.5h9M315.5 457.0v9M304.0 460.5h9M308.5 456.0v9M306.0 472.5h9M310.5 468.0v9M303.0 469.5h9M307.5 465.0v9M307.0 466.5h9M311.5 462.0v9M323.0 464.5h9M327.5 460.0v9M317.0 469.5h9M321.5 465.0v9M315.0 461.5h9M319.5 457.0v9M318.0 465.5h9M322.5 461.0v9M317.0 463.5h9M321.5 459.0v9M324.0 465.5h9M328.5 461.0v9M317.0 470.5h9M321.5 466.0v9M324.0 469.5h9M328.5 465.0v9M325.0 462.5h9M329.5 458.0v9M319.0 470.5h9M323.5 466.0v9M325.0 462.5h9M329.5 458.0v9M322.0 463.5h9M326.5 459.0v9M318.0 469.5h9M322.5 465.0v9M323.0 461.5h9M327.5 457.0v9M316.0 472.5h9M320.5 468.0v9M320.0 467.5h9M324.5 463.0v9M316.0 466.5h9M320.5 462.0v9M316.0 462.5h9M320.5 458.0v9M317.0 467.5h9M321.5 463.0v9M320.0 467.5h9M324.5 463.0v9M317.0 465.5h9M321.5 461.0v9M324.0 471.5h9M328.5 467.0v9M324.0 463.5h9M328.5 459.0v9M321.0 470.5h9M325.5 466.0v9M317.0 466.5h9M321.5 462.0v9M324.0 469.5h9M328.5 465.0v9M322.0 461.5h9M326.5 457.0v9M314.0 469.5h9M318.5 465.0v9M333.0 462.5h9M337.5 458.0v9M326.0 463.5h9M330.5 459.0v9M333.0 465.5h9M337.5 461.0v9M334.0 462.5h9M338.5 458.0v9M334.0 461.5h9M338.5 457.0v9M337.0 463.5h9M341.5 459.0v9M326.0 470.5h9M330.5 466.0v9M330.0 465.5h9M334.5 461.0v9M327.0 463.5h9M331.5 459.0v9M330.0 464.5h9M334.5 460.0v9M332.0 463.5h9M336.5 459.0v9M331.0 460.5h9M335.5 456.0v9M332.0 468.5h9M336.5 464.0v9M337.0 469.5h9M341.5 465.0v9M326.0 465.5h9M330.5 461.0v9M335.0 469.5h9M339.5 465.0v9M326.0 460.5h9M330.5 456.0v9M332.0 466.5h9M336.5 462.0v9M327.0 463.5h9M331.5 459.0v9M330.0 470.5h9M334.5 466.0v9M329.0 470.5h9M333.5 466.0v9M349.0 463.5h9M353.5 459.0v9M349.0 461.5h9M353.5 457.0v9M343.0 461.5h9M347.5 457.0v9M342.0 464.5h9M346.5 460.0v9M348.0 470.5h9M352.5 466.0v9M342.0 464.5h9M346.5 460.0v9M350.0 462.5h9M354.5 458.0v9M344.0 467.5h9M348.5 463.0v9M346.0 462.5h9M350.5 458.0v9M342.0 462.5h9M346.5 458.0v9M347.0 469.5h9M351.5 465.0v9M348.0 465.5h9M352.5 461.0v9M338.0 471.5h9M342.5 467.0v9M339.0 463.5h9M343.5 459.0v9M338.0 465.5h9M342.5 461.0v9M347.0 472.5h9M351.5 468.0v9M357.0 461.5h9M361.5 457.0v9M362.0 461.5h9M366.5 457.0v9M353.0 463.5h9M357.5 459.0v9M362.0 465.5h9M366.5 461.0v9M361.0 467.5h9M365.5 463.0v9M356.0 470.5h9M360.5 466.0v9M353.0 463.5h9M357.5 459.0v9M362.0 468.5h9M366.5 464.0v9M355.0 468.5h9M359.5 464.0v9M360.0 469.5h9M364.5 465.0v9M357.0 468.5h9M361.5 464.0v9M353.0 466.5h9M357.5 462.0v9M362.0 471.5h9M366.5 467.0v9M363.0 463.5h9M367.5 459.0v9M366.0 464.5h9M370.5 460.0v9M367.0 464.5h9M371.5 460.0v9M369.0 463.5h9M373.5 459.0v9M372.0 460.5h9M376.5 456.0v9M375.0 462.5h9M379.5 458.0v9M374.0 468.5h9M378.5 464.0v9M374.0 465.5h9M378.5 461.0v9M367.0 468.5h9M371.5 464.0v9M365.0 465.5h9M369.5 461.0v9M370.0 462.5h9M374.5 458.0v9M386.0 466.5h9M390.5 462.0v9M382.0 468.5h9M386.5 464.0v9M274.0 474.5h9M278.5 470.0v9M265.0 474.5h9M269.5 470.0v9M275.0 478.5h9M279.5 474.0v9M284.0 475.5h9M288.5 471.0v9M287.0 474.5h9M291.5 470.0v9M284.0 473.5h9M288.5 469.0v9M286.0 477.5h9M290.5 473.0v9M283.0 480.5h9M287.5 476.0v9M278.0 478.5h9M282.5 474.0v9M276.0 482.5h9M280.5 478.0v9M281.0 476.5h9M285.5 472.0v9M280.0 478.5h9M284.5 474.0v9M290.0 477.5h9M294.5 473.0v9M296.0 479.5h9M300.5 475.0v9M300.0 482.5h9M304.5 478.0v9M298.0 474.5h9M302.5 470.0v9M295.0 476.5h9M299.5 472.0v9M291.0 477.5h9M295.5 473.0v9M295.0 478.5h9M299.5 474.0v9M293.0 477.5h9M297.5 473.0v9M300.0 478.5h9M304.5 474.0v9M299.0 485.5h9M303.5 481.0v9M296.0 485.5h9M300.5 481.0v9M300.0 483.5h9M304.5 479.0v9M297.0 475.5h9M301.5 471.0v9M290.0 473.5h9M294.5 469.0v9M303.0 479.5h9M307.5 475.0v9M306.0 482.5h9M310.5 478.0v9M304.0 480.5h9M308.5 476.0v9M305.0 475.5h9M309.5 471.0v9M310.0 476.5h9M314.5 472.0v9M307.0 476.5h9M311.5 472.0v9M309.0 475.5h9M313.5 471.0v9M301.0 480.5h9M305.5 476.0v9M307.0 481.5h9M311.5 477.0v9M301.0 482.5h9M305.5 478.0v9M301.0 484.5h9M305.5 480.0v9M312.0 483.5h9M316.5 479.0v9M304.0 481.5h9M308.5 477.0v9M313.0 481.5h9M317.5 477.0v9M321.0 473.5h9M325.5 469.0v9M313.0 480.5h9M317.5 476.0v9M319.0 479.5h9M323.5 475.0v9M315.0 476.5h9M319.5 472.0v9M324.0 477.5h9M328.5 473.0v9M325.0 475.5h9M329.5 471.0v9M320.0 480.5h9M324.5 476.0v9M322.0 483.5h9M326.5 479.0v9M322.0 483.5h9M326.5 479.0v9M314.0 474.5h9M318.5 470.0v9M315.0 475.5h9M319.5 471.0v9M322.0 479.5h9M326.5 475.0v9M322.0 480.5h9M326.5 476.0v9M320.0 475.5h9M324.5 471.0v9M336.0 482.5h9M340.5 478.0v9M335.0 484.5h9M339.5 480.0v9M330.0 478.5h9M334.5 474.0v9M331.0 477.5h9M335.5 473.0v9M332.0 480.5h9M336.5 476.0v9M333.0 475.5h9M337.5 471.0v9M335.0 473.5h9M339.5 469.0v9M328.0 477.5h9M332.5 473.0v9M336.0 476.5h9M340.5 472.0v9M336.0 480.5h9M340.5 476.0v9M334.0 476.5h9M338.5 472.0v9M338.0 481.5h9M342.5 477.0v9M327.0 483.5h9M331.5 479.0v9M331.0 483.5h9M335.5 479.0v9M347.0 485.5h9M351.5 481.0v9M349.0 481.5h9M353.5 477.0v9M348.0 473.5h9M352.5 469.0v9M348.0 482.5h9M352.5 478.0v9M350.0 482.5h9M354.5 478.0v9M346.0 482.5h9M350.5 478.0v9M346.0 479.5h9M350.5 475.0v9M350.0 479.5h9M354.5 475.0v9M339.0 473.5h9M343.5 469.0v9M343.0 478.5h9M347.5 474.0v9M345.0 473.5h9M349.5 469.0v9M345.0 484.5h9M349.5 480.0v9M360.0 481.5h9M364.5 477.0v9M357.0 484.5h9M361.5 480.0v9M352.0 482.5h9M356.5 478.0v9M359.0 477.5h9M363.5 473.0v9M357.0 474.5h9M361.5 470.0v9M351.0 477.5h9M355.5 473.0v9M355.0 479.5h9M359.5 475.0v9M355.0 484.5h9M359.5 480.0v9M352.0 483.5h9M356.5 479.0v9M357.0 475.5h9M361.5 471.0v9M361.0 479.5h9M365.5 475.0v9M364.0 483.5h9M368.5 479.0v9M366.0 480.5h9M370.5 476.0v9M371.0 482.5h9M375.5 478.0v9M372.0 483.5h9M376.5 479.0v9M373.0 475.5h9M377.5 471.0v9M370.0 479.5h9M374.5 475.0v9M365.0 478.5h9M369.5 474.0v9M373.0 478.5h9M377.5 474.0v9M368.0 478.5h9M372.5 474.0v9M370.0 482.5h9M374.5 478.0v9M386.0 476.5h9M390.5 472.0v9M379.0 476.5h9M383.5 472.0v9M386.0 484.5h9M390.5 480.0v9M380.0 483.5h9M384.5 479.0v9M382.0 484.5h9M386.5 480.0v9M383.0 484.5h9M387.5 480.0v9M382.0 477.5h9M386.5 473.0v9M301.0 499.5h9M305.5 495.0v9M304.0 498.5h9M308.5 494.0v9M303.0 489.5h9M307.5 485.0v9M328.0 494.5h9M332.5 490.0v9M344.0 494.5h9M348.5 490.0v9M375.0 489.5h9M379.5 485.0v9M289.0 480.5h9M293.5 476.0v9M282.0 473.5h9M286.5 469.0v9M292.0 476.5h9M296.5 472.0v9M318.0 487.5h9M322.5 483.0v9M322.0 485.5h9M326.5 481.0v9M326.0 488.5h9M330.5 484.0v9M336.0 487.5h9M340.5 483.0v9M351.0 486.5h9M355.5 482.0v9M358.0 487.5h9M362.5 483.0v9M362.0 485.5h9M366.5 481.0v9M368.0 486.5h9M372.5 482.0v9M308.0 486.5h9M312.5 482.0v9M314.0 484.5h9M318.5 480.0v9M296.0 484.5h9M300.5 480.0v9M190.0 462.5h9M194.5 458.0v9M246.0 266.5h9M250.5 262.0v9M247.0 265.5h9M251.5 261.0v9M253.0 264.5h9M257.5 260.0v9M229.0 283.5h9M233.5 279.0v9M218.0 294.5h9M222.5 290.0v9M252.0 299.5h9M256.5 295.0v9M231.0 318.5h9M235.5 314.0v9M240.0 320.5h9M244.5 316.0v9M255.0 320.5h9M259.5 316.0v9M241.0 328.5h9M245.5 324.0v9M249.0 328.5h9M253.5 324.0v9M252.0 324.5h9M256.5 320.0v9M244.0 336.5h9M248.5 332.0v9M251.0 339.5h9M255.5 335.0v9M227.0 349.5h9M231.5 345.0v9M210.0 354.5h9M214.5 350.0v9M222.0 356.5h9M226.5 352.0v9M229.0 354.5h9M233.5 350.0v9M231.0 359.5h9M235.5 355.0v9M233.0 363.5h9M237.5 359.0v9M242.0 361.5h9M246.5 357.0v9M237.0 366.5h9M241.5 362.0v9M254.0 359.5h9M258.5 355.0v9M253.0 371.5h9M257.5 367.0v9M220.0 370.5h9M224.5 366.0v9M213.0 375.5h9M217.5 371.0v9M229.0 374.5h9M233.5 370.0v9M199.0 381.5h9M203.5 377.0v9M227.0 383.5h9M231.5 379.0v9M254.0 380.5h9M258.5 376.0v9M238.0 386.5h9M242.5 382.0v9M244.0 384.5h9M248.5 380.0v9M247.0 386.5h9M251.5 382.0v9M252.0 389.5h9M256.5 385.0v9M216.0 388.5h9M220.5 384.0v9M227.0 389.5h9M231.5 385.0v9M219.0 394.5h9M223.5 390.0v9M249.0 396.5h9M253.5 392.0v9M212.0 400.5h9M216.5 396.0v9M209.0 408.5h9M213.5 404.0v9M222.0 411.5h9M226.5 407.0v9M230.0 403.5h9M234.5 399.0v9M236.0 413.5h9M240.5 409.0v9M244.0 409.5h9M248.5 405.0v9M246.0 401.5h9M250.5 397.0v9M249.0 403.5h9M253.5 399.0v9M256.0 404.5h9M260.5 400.0v9M254.0 416.5h9M258.5 412.0v9M237.0 422.5h9M241.5 418.0v9M241.0 421.5h9M245.5 417.0v9M247.0 421.5h9M251.5 417.0v9M249.0 423.5h9M253.5 419.0v9M251.0 426.5h9M255.5 422.0v9M253.0 428.5h9M257.5 424.0v9M256.0 424.5h9M260.5 420.0v9M251.0 440.5h9M255.5 436.0v9M188.0 443.5h9M192.5 439.0v9M192.0 453.5h9M196.5 449.0v9M194.0 456.5h9M198.5 452.0v9M215.0 448.5h9M219.5 444.0v9M225.0 446.5h9M229.5 442.0v9M219.0 455.5h9M223.5 451.0v9M230.0 456.5h9M234.5 452.0v9M246.0 456.5h9M250.5 452.0v9M254.0 456.5h9M258.5 452.0v9M237.0 458.5h9M241.5 454.0v9M244.0 480.5h9M248.5 476.0v9" stroke="#00bfbf" stroke-width="0.82" fill="none"/>
<path d="M245.8 262.6l8.3 8.3M245.8 270.9l8.3 -8.3M247.7 261.3l8.3 8.3M247.7 269.7l8.3 -8.3M253.3 260.1l8.3 8.3M253.3 268.4l8.3 -8.3M229.3 279.5l8.3 8.3M229.3 287.8l8.3 -8.3M218.3 290.1l8.3 8.3M218.3 298.4l8.3 -8.3M252.1 295.1l8.3 8.3M252.1 303.4l8.3 -8.3M231.5 314.5l8.3 8.3M231.5 322.8l8.3 -8.3M240.2 316.3l8.3 8.3M240.2 324.7l8.3 -8.3M255.2 316.3l8.3 8.3M255.2 324.7l8.3 -8.3M240.8 324.5l8.3 8.3M240.8 332.8l8.3 -8.3M249.6 323.8l8.3 8.3M249.6 332.2l8.3 -8.3M252.1 320.1l8.3 8.3M252.1 328.4l8.3 -8.3M244.0 332.0l8.3 8.3M244.0 340.3l8.3 -8.3M251.5 335.1l8.3 8.3M251.5 343.4l8.3 -8.3M227.1 345.7l8.3 8.3M227.1 354.0l8.3 -8.3M210.2 350.7l8.3 8.3M210.2 359.0l8.3 -8.3M222.7 352.0l8.3 8.3M222.7 360.3l8.3 -8.3M229.6 350.7l8.3 8.3M229.6 359.0l8.3 -8.3M230.8 355.1l8.3 8.3M230.8 363.4l8.3 -8.3M233.3 358.8l8.3 8.3M233.3 367.2l8.3 -8.3M242.1 357.0l8.3 8.3M242.1 365.3l8.3 -8.3M237.1 362.6l8.3 8.3M237.1 370.9l8.3 -8.3M254.6 355.1l8.3 8.3M254.6 363.4l8.3 -8.3M253.3 367.0l8.3 8.3M253.3 375.3l8.3 -8.3M220.2 366.3l8.3 8.3M220.2 374.7l8.3 -8.3M213.3 371.3l8.3 8.3M213.3 379.7l8.3 -8.3M229.6 370.1l8.3 8.3M229.6 378.4l8.3 -8.3M199.6 377.0l8.3 8.3M199.6 385.3l8.3 -8.3M227.1 378.8l8.3 8.3M227.1 387.2l8.3 -8.3M254.0 376.3l8.3 8.3M254.0 384.7l8.3 -8.3M238.3 382.0l8.3 8.3M238.3 390.3l8.3 -8.3M244.0 380.7l8.3 8.3M244.0 389.0l8.3 -8.3M247.7 382.6l8.3 8.3M247.7 390.9l8.3 -8.3M252.1 385.7l8.3 8.3M252.1 394.0l8.3 -8.3M215.8 383.8l8.3 8.3M215.8 392.2l8.3 -8.3M227.1 385.1l8.3 8.3M227.1 393.4l8.3 -8.3M219.6 390.7l8.3 8.3M219.6 399.0l8.3 -8.3M249.6 392.6l8.3 8.3M249.6 400.9l8.3 -8.3M212.1 396.3l8.3 8.3M212.1 404.7l8.3 -8.3M209.6 404.5l8.3 8.3M209.6 412.8l8.3 -8.3M222.1 407.0l8.3 8.3M222.1 415.3l8.3 -8.3M230.2 398.8l8.3 8.3M230.2 407.2l8.3 -8.3M236.5 408.8l8.3 8.3M236.5 417.2l8.3 -8.3M244.0 405.7l8.3 8.3M244.0 414.0l8.3 -8.3M245.8 397.6l8.3 8.3M245.8 405.9l8.3 -8.3M249.6 399.5l8.3 8.3M249.6 407.8l8.3 -8.3M255.8 400.7l8.3 8.3M255.8 409.0l8.3 -8.3M254.6 412.0l8.3 8.3M254.6 420.3l8.3 -8.3M237.1 418.2l8.3 8.3M237.1 426.5l8.3 -8.3M240.8 417.0l8.3 8.3M240.8 425.3l8.3 -8.3M247.7 417.6l8.3 8.3M247.7 425.9l8.3 -8.3M249.6 419.5l8.3 8.3M249.6 427.8l8.3 -8.3M251.5 422.0l8.3 8.3M251.5 430.3l8.3 -8.3M253.3 424.5l8.3 8.3M253.3 432.8l8.3 -8.3M255.8 420.7l8.3 8.3M255.8 429.0l8.3 -8.3M250.8 436.3l8.3 8.3M250.8 444.7l8.3 -8.3M188.3 439.5l8.3 8.3M188.3 447.8l8.3 -8.3M192.1 449.5l8.3 8.3M192.1 457.8l8.3 -8.3M194.0 452.0l8.3 8.3M194.0 460.3l8.3 -8.3M215.2 444.5l8.3 8.3M215.2 452.8l8.3 -8.3M225.2 442.0l8.3 8.3M225.2 450.3l8.3 -8.3M219.0 451.3l8.3 8.3M219.0 459.7l8.3 -8.3M230.2 452.6l8.3 8.3M230.2 460.9l8.3 -8.3M245.8 452.0l8.3 8.3M245.8 460.3l8.3 -8.3M254.0 452.0l8.3 8.3M254.0 460.3l8.3 -8.3M237.1 453.8l8.3 8.3M237.1 462.2l8.3 -8.3M244.5 476.1l8.3 8.3M244.5 484.5l8.3 -8.3" stroke="#0000ff" stroke-width="0.95" fill="none"/>
<g fill="#bf00bf" stroke="#000" stroke-width="0.7">
<circle cx="251.4" cy="465.2" r="4.17"/>
<circle cx="221.4" cy="467.3" r="4.17"/>
<circle cx="247.9" cy="465.2" r="4.17"/>
<circle cx="232.8" cy="464.3" r="4.17"/>
<circle cx="220.6" cy="465.0" r="4.17"/>
<circle cx="229.6" cy="465.8" r="4.17"/>
<circle cx="254.8" cy="463.9" r="4.17"/>
<circle cx="219.1" cy="467.3" r="4.17"/>
<circle cx="206.7" cy="466.4" r="4.17"/>
<circle cx="254.7" cy="464.9" r="4.17"/>
<circle cx="208.5" cy="466.2" r="4.17"/>
<circle cx="215.2" cy="467.8" r="4.17"/>
<circle cx="229.8" cy="466.2" r="4.17"/>
<circle cx="247.4" cy="465.3" r="4.17"/>
<circle cx="259.0" cy="466.5" r="4.17"/>
<circle cx="212.6" cy="466.8" r="4.17"/>
<circle cx="215.2" cy="466.5" r="4.17"/>
<circle cx="260.1" cy="464.4" r="4.17"/>
<circle cx="234.6" cy="463.6" r="4.17"/>
<circle cx="252.2" cy="464.9" r="4.17"/>
<circle cx="223.1" cy="465.4" r="4.17"/>
<circle cx="218.6" cy="467.2" r="4.17"/>
<circle cx="253.0" cy="463.9" r="4.17"/>
<circle cx="213.7" cy="467.2" r="4.17"/>
<circle cx="217.2" cy="463.8" r="4.17"/>
<circle cx="223.2" cy="464.9" r="4.17"/>
<circle cx="221.3" cy="465.3" r="4.17"/>
<circle cx="211.4" cy="467.6" r="4.17"/>
<circle cx="218.6" cy="467.7" r="4.17"/>
<circle cx="211.8" cy="463.7" r="4.17"/>
<circle cx="232.9" cy="464.4" r="4.17"/>
<circle cx="242.4" cy="465.5" r="4.17"/>
<circle cx="231.9" cy="464.7" r="4.17"/>
<circle cx="205.7" cy="467.7" r="4.17"/>
<circle cx="236.3" cy="466.2" r="4.17"/>
<circle cx="243.4" cy="464.9" r="4.17"/>
<circle cx="212.0" cy="466.1" r="4.17"/>
<circle cx="230.0" cy="466.5" r="4.17"/>
<circle cx="258.6" cy="467.3" r="4.17"/>
<circle cx="250.1" cy="467.4" r="4.17"/>
<circle cx="228.4" cy="465.4" r="4.17"/>
<circle cx="216.8" cy="466.8" r="4.17"/>
<circle cx="211.0" cy="467.8" r="4.17"/>
<circle cx="204.3" cy="465.8" r="4.17"/>
<circle cx="215.4" cy="466.7" r="4.17"/>
<circle cx="230.3" cy="465.7" r="4.17"/>
<circle cx="230.9" cy="465.2" r="4.17"/>
<circle cx="211.7" cy="464.4" r="4.17"/>
<circle cx="228.3" cy="463.9" r="4.17"/>
<circle cx="227.5" cy="464.9" r="4.17"/>
<circle cx="249.1" cy="465.1" r="4.17"/>
<circle cx="255.7" cy="466.0" r="4.17"/>
<circle cx="257.8" cy="466.5" r="4.17"/>
<circle cx="230.2" cy="466.6" r="4.17"/>
<circle cx="251.6" cy="466.9" r="4.17"/>
<circle cx="238.0" cy="466.0" r="4.17"/>
<circle cx="207.6" cy="465.8" r="4.17"/>
<circle cx="205.9" cy="466.2" r="4.17"/>
<circle cx="237.1" cy="466.6" r="4.17"/>
<circle cx="241.6" cy="467.2" r="4.17"/>
<circle cx="239.9" cy="464.6" r="4.17"/>
<circle cx="230.0" cy="467.3" r="4.17"/>
<circle cx="236.4" cy="464.4" r="4.17"/>
<circle cx="240.5" cy="463.6" r="4.17"/>
<circle cx="242.9" cy="467.0" r="4.17"/>
<circle cx="210.1" cy="464.5" r="4.17"/>
<circle cx="229.5" cy="467.2" r="4.17"/>
<circle cx="221.0" cy="465.1" r="4.17"/>
<circle cx="230.0" cy="465.1" r="4.17"/>
<circle cx="224.7" cy="467.3" r="4.17"/>
<circle cx="205.9" cy="466.8" r="4.17"/>
<circle cx="248.0" cy="463.8" r="4.17"/>
<circle cx="232.2" cy="467.7" r="4.17"/>
<circle cx="252.9" cy="464.4" r="4.17"/>
<circle cx="204.1" cy="466.4" r="4.17"/>
<circle cx="207.3" cy="467.6" r="4.17"/>
<circle cx="209.0" cy="467.2" r="4.17"/>
<circle cx="252.7" cy="465.6" r="4.17"/>
<circle cx="231.3" cy="467.7" r="4.17"/>
<circle cx="245.7" cy="466.5" r="4.17"/>
<circle cx="206.1" cy="464.6" r="4.17"/>
<circle cx="245.4" cy="467.7" r="4.17"/>
<circle cx="206.2" cy="466.0" r="4.17"/>
<circle cx="255.0" cy="464.9" r="4.17"/>
<circle cx="231.7" cy="465.4" r="4.17"/>
<circle cx="257.9" cy="464.4" r="4.17"/>
<circle cx="238.9" cy="466.0" r="4.17"/>
<circle cx="236.9" cy="466.0" r="4.17"/>
<circle cx="211.4" cy="464.2" r="4.17"/>
<circle cx="238.7" cy="465.3" r="4.17"/>
<circle cx="245.9" cy="464.7" r="4.17"/>
<circle cx="237.4" cy="467.4" r="4.17"/>
<circle cx="242.1" cy="464.4" r="4.17"/>
<circle cx="253.5" cy="466.2" r="4.17"/>
<circle cx="242.5" cy="466.3" r="4.17"/>
<circle cx="239.3" cy="466.2" r="4.17"/>
<circle cx="232.6" cy="465.1" r="4.17"/>
<circle cx="228.3" cy="464.6" r="4.17"/>
<circle cx="243.4" cy="463.5" r="4.17"/>
<circle cx="250.2" cy="464.4" r="4.17"/>
<circle cx="244.4" cy="467.1" r="4.17"/>
<circle cx="207.5" cy="464.7" r="4.17"/>
<circle cx="216.6" cy="465.8" r="4.17"/>
<circle cx="237.6" cy="464.8" r="4.17"/>
<circle cx="234.9" cy="463.8" r="4.17"/>
<circle cx="255.5" cy="465.4" r="4.17"/>
<circle cx="259.3" cy="467.9" r="4.17"/>
<circle cx="254.2" cy="465.3" r="4.17"/>
<circle cx="237.2" cy="465.0" r="4.17"/>
<circle cx="243.8" cy="466.0" r="4.17"/>
<circle cx="251.4" cy="465.1" r="4.17"/>
<circle cx="210.2" cy="464.5" r="4.17"/>
<circle cx="220.0" cy="465.2" r="4.17"/>
<circle cx="203.1" cy="467.5" r="4.17"/>
<circle cx="238.2" cy="464.1" r="4.17"/>
<circle cx="255.6" cy="464.1" r="4.17"/>
<circle cx="201.9" cy="466.8" r="4.17"/>
<circle cx="209.0" cy="464.3" r="4.17"/>
<circle cx="213.3" cy="464.1" r="4.17"/>
<circle cx="247.3" cy="464.6" r="4.17"/>
<circle cx="223.3" cy="467.4" r="4.17"/>
<circle cx="213.2" cy="467.6" r="4.17"/>
<circle cx="223.5" cy="467.6" r="4.17"/>
<circle cx="216.6" cy="464.9" r="4.17"/>
<circle cx="216.3" cy="467.5" r="4.17"/>
<circle cx="234.8" cy="463.8" r="4.17"/>
<circle cx="241.0" cy="465.6" r="4.17"/>
<circle cx="216.2" cy="465.9" r="4.17"/>
<circle cx="233.9" cy="465.5" r="4.17"/>
<circle cx="203.3" cy="467.8" r="4.17"/>
<circle cx="258.7" cy="466.8" r="4.17"/>
<circle cx="207.6" cy="465.6" r="4.17"/>
<circle cx="234.4" cy="466.7" r="4.17"/>
<circle cx="260.1" cy="466.9" r="4.17"/>
<circle cx="220.5" cy="464.0" r="4.17"/>
<circle cx="218.5" cy="464.9" r="4.17"/>
<circle cx="244.9" cy="464.9" r="4.17"/>
<circle cx="228.9" cy="467.7" r="4.17"/>
<circle cx="217.2" cy="467.3" r="4.17"/>
<circle cx="235.2" cy="464.8" r="4.17"/>
<circle cx="250.1" cy="467.8" r="4.17"/>
<circle cx="240.9" cy="463.8" r="4.17"/>
<circle cx="215.7" cy="465.0" r="4.17"/>
<circle cx="240.8" cy="464.4" r="4.17"/>
<circle cx="256.2" cy="465.8" r="4.17"/>
<circle cx="213.2" cy="467.5" r="4.17"/>
<circle cx="239.9" cy="467.0" r="4.17"/>
<circle cx="230.9" cy="463.7" r="4.17"/>
<circle cx="240.5" cy="464.6" r="4.17"/>
<circle cx="209.7" cy="466.9" r="4.17"/>
<circle cx="215.3" cy="464.7" r="4.17"/>
<circle cx="222.0" cy="467.1" r="4.17"/>
<circle cx="250.9" cy="466.2" r="4.17"/>
<circle cx="224.2" cy="466.6" r="4.17"/>
<circle cx="221.4" cy="466.6" r="4.17"/>
<circle cx="245.1" cy="466.0" r="4.17"/>
<circle cx="209.7" cy="464.3" r="4.17"/>
<circle cx="220.4" cy="467.1" r="4.17"/>
<circle cx="233.9" cy="466.0" r="4.17"/>
<circle cx="221.9" cy="466.7" r="4.17"/>
<circle cx="236.7" cy="463.6" r="4.17"/>
<circle cx="236.9" cy="464.3" r="4.17"/>
<circle cx="209.9" cy="466.0" r="4.17"/>
<circle cx="209.4" cy="467.0" r="4.17"/>
<circle cx="247.6" cy="465.1" r="4.17"/>
<circle cx="226.1" cy="466.8" r="4.17"/>
<circle cx="210.4" cy="463.5" r="4.17"/>
<circle cx="206.1" cy="463.7" r="4.17"/>
<circle cx="226.2" cy="466.5" r="4.17"/>
<circle cx="251.0" cy="467.8" r="4.17"/>
<circle cx="213.6" cy="464.9" r="4.17"/>
<circle cx="260.0" cy="465.0" r="4.17"/>
<circle cx="202.8" cy="465.0" r="4.17"/>
<circle cx="236.4" cy="466.1" r="4.17"/>
<circle cx="242.6" cy="465.2" r="4.17"/>
<circle cx="232.8" cy="465.1" r="4.17"/>
<circle cx="216.8" cy="466.9" r="4.17"/>
<circle cx="220.2" cy="463.5" r="4.17"/>
<circle cx="234.1" cy="467.3" r="4.17"/>
<circle cx="254.2" cy="466.8" r="4.17"/>
<circle cx="226.2" cy="467.7" r="4.17"/>
<circle cx="221.8" cy="467.2" r="4.17"/>
<circle cx="225.1" cy="467.0" r="4.17"/>
<circle cx="260.3" cy="464.8" r="4.17"/>
<circle cx="217.2" cy="466.9" r="4.17"/>
<circle cx="211.7" cy="466.1" r="4.17"/>
<circle cx="254.0" cy="465.0" r="4.17"/>
<circle cx="209.0" cy="467.1" r="4.17"/>
<circle cx="250.9" cy="465.7" r="4.17"/>
<circle cx="238.3" cy="467.8" r="4.17"/>
<circle cx="257.8" cy="466.7" r="4.17"/>
<circle cx="220.3" cy="467.4" r="4.17"/>
<circle cx="251.8" cy="467.5" r="4.17"/>
<circle cx="206.7" cy="466.1" r="4.17"/>
<circle cx="247.5" cy="467.4" r="4.17"/>
<circle cx="220.8" cy="466.1" r="4.17"/>
<circle cx="228.6" cy="465.8" r="4.17"/>
<circle cx="248.4" cy="467.9" r="4.17"/>
<circle cx="238.9" cy="466.6" r="4.17"/>
<circle cx="228.5" cy="466.5" r="4.17"/>
<circle cx="218.8" cy="467.8" r="4.17"/>
<circle cx="245.9" cy="466.3" r="4.17"/>
<circle cx="228.9" cy="463.5" r="4.17"/>
<circle cx="216.0" cy="466.5" r="4.17"/>
<circle cx="224.6" cy="466.3" r="4.17"/>
<circle cx="248.3" cy="466.7" r="4.17"/>
<circle cx="205.0" cy="467.8" r="4.17"/>
<circle cx="220.5" cy="466.7" r="4.17"/>
<circle cx="244.3" cy="467.9" r="4.17"/>
<circle cx="237.6" cy="467.0" r="4.17"/>
<circle cx="227.4" cy="467.8" r="4.17"/>
<circle cx="210.7" cy="465.4" r="4.17"/>
<circle cx="204.4" cy="464.6" r="4.17"/>
<circle cx="225.1" cy="465.9" r="4.17"/>
<circle cx="242.0" cy="467.4" r="4.17"/>
<circle cx="217.3" cy="467.3" r="4.17"/>
<circle cx="254.6" cy="466.4" r="4.17"/>
<circle cx="238.0" cy="465.3" r="4.17"/>
<circle cx="228.3" cy="464.7" r="4.17"/>
<circle cx="245.9" cy="463.6" r="4.17"/>
<circle cx="219.2" cy="465.3" r="4.17"/>
<circle cx="254.1" cy="465.7" r="4.17"/>
<circle cx="223.2" cy="467.8" r="4.17"/>
<circle cx="201.9" cy="466.0" r="4.17"/>
<circle cx="259.0" cy="466.0" r="4.17"/>
<circle cx="230.7" cy="465.5" r="4.17"/>
<circle cx="254.6" cy="463.6" r="4.17"/>
<circle cx="208.0" cy="464.8" r="4.17"/>
<circle cx="213.3" cy="466.4" r="4.17"/>
<circle cx="230.0" cy="466.6" r="4.17"/>
<circle cx="254.2" cy="467.7" r="4.17"/>
<circle cx="207.0" cy="465.6" r="4.17"/>
<circle cx="233.2" cy="466.5" r="4.17"/>
<circle cx="246.1" cy="467.0" r="4.17"/>
<circle cx="224.5" cy="466.8" r="4.17"/>
<circle cx="227.7" cy="464.1" r="4.17"/>
<circle cx="256.4" cy="467.4" r="4.17"/>
<circle cx="233.1" cy="466.8" r="4.17"/>
<circle cx="242.1" cy="466.4" r="4.17"/>
<circle cx="241.1" cy="464.1" r="4.17"/>
<circle cx="254.3" cy="467.7" r="4.17"/>
<circle cx="221.6" cy="466.5" r="4.17"/>
<circle cx="233.7" cy="464.3" r="4.17"/>
<circle cx="214.1" cy="466.1" r="4.17"/>
<circle cx="221.1" cy="464.2" r="4.17"/>
<circle cx="249.8" cy="463.7" r="4.17"/>
<circle cx="258.2" cy="466.6" r="4.17"/>
<circle cx="220.8" cy="466.7" r="4.17"/>
<circle cx="246.3" cy="465.8" r="4.17"/>
<circle cx="233.2" cy="464.2" r="4.17"/>
<circle cx="242.3" cy="464.9" r="4.17"/>
<circle cx="223.1" cy="464.0" r="4.17"/>
<circle cx="222.3" cy="464.5" r="4.17"/>
<circle cx="213.7" cy="463.8" r="4.17"/>
<circle cx="231.0" cy="466.4" r="4.17"/>
<circle cx="204.9" cy="466.9" r="4.17"/>
<circle cx="252.1" cy="465.8" r="4.17"/>
<circle cx="215.9" cy="466.4" r="4.17"/>
<circle cx="238.8" cy="464.2" r="4.17"/>
<circle cx="231.3" cy="467.5" r="4.17"/>
<circle cx="222.0" cy="466.1" r="4.17"/>
<circle cx="257.0" cy="464.0" r="4.17"/>
<circle cx="251.4" cy="465.9" r="4.17"/>
<circle cx="244.8" cy="465.5" r="4.17"/>
<circle cx="208.5" cy="467.3" r="4.17"/>
<circle cx="228.7" cy="466.8" r="4.17"/>
<circle cx="239.8" cy="463.9" r="4.17"/>
<circle cx="207.2" cy="466.4" r="4.17"/>
<circle cx="242.4" cy="463.7" r="4.17"/>
<circle cx="249.5" cy="465.7" r="4.17"/>
<circle cx="257.3" cy="467.2" r="4.17"/>
<circle cx="231.1" cy="464.3" r="4.17"/>
<circle cx="203.3" cy="466.3" r="4.17"/>
<circle cx="213.8" cy="465.3" r="4.17"/>
<circle cx="248.9" cy="464.0" r="4.17"/>
<circle cx="210.3" cy="467.4" r="4.17"/>
<circle cx="238.1" cy="466.7" r="4.17"/>
<circle cx="239.9" cy="464.7" r="4.17"/>
<circle cx="227.7" cy="464.4" r="4.17"/>
<circle cx="247.7" cy="465.1" r="4.17"/>
<circle cx="208.8" cy="466.6" r="4.17"/>
<circle cx="238.0" cy="467.5" r="4.17"/>
</g>
<path d="M100.0 466.9H382.5" stroke="#00f" stroke-width="1.39" stroke-dasharray="8.33 8.33" fill="none"/>
<path d="M100.0 465.3H382.5" stroke="#f00" stroke-width="1.39" stroke-dasharray="8.33 8.33" fill="none"/>
<path d="M100.0 462.5H382.5M100.0 468.4H382.5" stroke="#00f" stroke-width="1.39" stroke-dasharray="4.17 6.94 1.39 6.94" fill="none"/>
</g>
<path d="M100.5 540.5v-5.56M138.5 540.5v-5.56M175.5 540.5v-5.56M213.5 540.5v-5.56M250.5 540.5v-5.56M288.5 540.5v-5.56M325.5 540.5v-5.56M363.5 540.5v-5.56M116.5 60.5v5.56M153.5 60.5v5.56M191.5 60.5v5.56M228.5 60.5v5.56M266.5 60.5v5.56M304.5 60.5v5.56M341.5 60.5v5.56M379.5 60.5v5.56M100.5 540.5h5.56M382.5 540.5h-5.56M100.5 420.5h5.56M382.5 420.5h-5.56M100.5 300.5h5.56M382.5 300.5h-5.56M100.5 180.5h5.56M382.5 180.5h-5.56M100.5 60.5h5.56M382.5 60.5h-5.56" stroke="#000" stroke-width="0.69" fill="none"/>
<rect x="100.50" y="60.50" width="282.00" height="480.00" fill="none" stroke="#000" stroke-width="1.39"/>
<g clip-path="url(#c2)">
<rect x="438.30" y="113.00" width="0.92" height="56.20" fill="#0000ff" stroke="#000" stroke-width="1.39"/>
<rect x="438.30" y="169.20" width="6.56" height="57.10" fill="#0000ff" stroke="#000" stroke-width="1.39"/>
<rect x="438.30" y="226.30" width="42.25" height="56.90" fill="#0000ff" stroke="#000" stroke-width="1.39"/>
<rect x="438.30" y="283.20" width="210.40" height="57.30" fill="#0000ff" stroke="#000" stroke-width="1.39"/>
<rect x="438.30" y="340.50" width="2.80" height="57.50" fill="#0000ff" stroke="#000" stroke-width="1.39"/>
<rect x="438.30" y="454.50" width="0.92" height="57.50" fill="#0000ff" stroke="#000" stroke-width="1.39"/>
</g>
<path d="M438.40 314.4H690.90" stroke="#000" stroke-width="1.39" stroke-dasharray="8.33 8.33" fill="none"/>
<path d="M438.5 540.5v-5.56M438.5 60.5v5.56M485.5 540.5v-5.56M485.5 60.5v5.56M532.5 540.5v-5.56M532.5 60.5v5.56M579.5 540.5v-5.56M579.5 60.5v5.56M626.5 540.5v-5.56M626.5 60.5v5.56M673.5 540.5v-5.56M673.5 60.5v5.56M720.5 540.5v-5.56M720.5 60.5v5.56M438.5 540.5h5.56M720.5 540.5h-5.56M438.5 487.5h5.56M720.5 487.5h-5.56M438.5 433.5h5.56M720.5 433.5h-5.56M438.5 380.5h5.56M720.5 380.5h-5.56M438.5 327.5h5.56M720.5 327.5h-5.56M438.5 273.5h5.56M720.5 273.5h-5.56M438.5 220.5h5.56M720.5 220.5h-5.56M438.5 167.5h5.56M720.5 167.5h-5.56M438.5 113.5h5.56M720.5 113.5h-5.56M438.5 60.5h5.56M720.5 60.5h-5.56" stroke="#000" stroke-width="0.69" fill="none"/>
<rect x="438.50" y="60.50" width="282.00" height="480.00" fill="none" stroke="#000" stroke-width="1.39"/>
<g font-family="'DejaVu Sans','Liberation Sans',sans-serif" fill="#000" style="mix-blend-mode:multiply">
<text x="100.20" y="559.60" font-size="16.67" text-anchor="middle">−20</text>
<text x="137.78" y="559.60" font-size="16.67" text-anchor="middle">−18</text>
<text x="175.35" y="559.60" font-size="16.67" text-anchor="middle">−16</text>
<text x="212.93" y="559.60" font-size="16.67" text-anchor="middle">−14</text>
<text x="250.50" y="559.60" font-size="16.67" text-anchor="middle">−12</text>
<text x="288.08" y="559.60" font-size="16.67" text-anchor="middle">−10</text>
<text x="325.65" y="559.60" font-size="16.67" text-anchor="middle">−8</text>
<text x="363.23" y="559.60" font-size="16.67" text-anchor="middle">−6</text>
<text x="114.90" y="49.50" font-size="16.67" text-anchor="middle" letter-spacing="-1.30">14</text>
<text x="152.48" y="49.50" font-size="16.67" text-anchor="middle" letter-spacing="-1.30">16</text>
<text x="190.05" y="49.50" font-size="16.67" text-anchor="middle" letter-spacing="-1.30">18</text>
<text x="227.63" y="49.50" font-size="16.67" text-anchor="middle" letter-spacing="-1.30">20</text>
<text x="265.20" y="49.50" font-size="16.67" text-anchor="middle" letter-spacing="-1.30">22</text>
<text x="302.78" y="49.50" font-size="16.67" text-anchor="middle" letter-spacing="-1.30">24</text>
<text x="340.35" y="49.50" font-size="16.67" text-anchor="middle" letter-spacing="-1.30">26</text>
<text x="377.93" y="49.50" font-size="16.67" text-anchor="middle" letter-spacing="-1.30">28</text>
<text x="94.80" y="544.40" font-size="16.67" text-anchor="end" letter-spacing="-0.50">0</text>
<text x="94.80" y="424.40" font-size="16.67" text-anchor="end" letter-spacing="-0.50">5</text>
<text x="94.80" y="304.40" font-size="16.67" text-anchor="end" letter-spacing="-0.50">10</text>
<text x="94.80" y="184.40" font-size="16.67" text-anchor="end" letter-spacing="-0.50">15</text>
<text x="94.80" y="64.40" font-size="16.67" text-anchor="end" letter-spacing="-0.50">20</text>
<text x="438.58" y="559.60" font-size="16.67" text-anchor="middle">0</text>
<text x="485.55" y="559.60" font-size="16.67" text-anchor="middle" letter-spacing="-0.60">50</text>
<text x="532.52" y="559.60" font-size="16.67" text-anchor="middle" letter-spacing="-0.60">100</text>
<text x="579.49" y="559.60" font-size="16.67" text-anchor="middle" letter-spacing="-0.60">150</text>
<text x="626.46" y="559.60" font-size="16.67" text-anchor="middle" letter-spacing="-0.60">200</text>
<text x="673.43" y="559.60" font-size="16.67" text-anchor="middle" letter-spacing="-0.60">250</text>
<text x="720.40" y="559.60" font-size="16.67" text-anchor="middle" letter-spacing="-0.60">300</text>
<text x="433.00" y="544.80" font-size="16.67" text-anchor="end" letter-spacing="-0.40">2.2</text>
<text x="433.00" y="491.47" font-size="16.67" text-anchor="end" letter-spacing="-0.40">2.4</text>
<text x="433.00" y="438.13" font-size="16.67" text-anchor="end" letter-spacing="-0.40">2.6</text>
<text x="433.00" y="384.80" font-size="16.67" text-anchor="end" letter-spacing="-0.40">2.8</text>
<text x="433.00" y="331.47" font-size="16.67" text-anchor="end" letter-spacing="-0.40">3.0</text>
<text x="433.00" y="278.13" font-size="16.67" text-anchor="end" letter-spacing="-0.40">3.2</text>
<text x="433.00" y="224.80" font-size="16.67" text-anchor="end" letter-spacing="-0.40">3.4</text>
<text x="433.00" y="171.47" font-size="16.67" text-anchor="end" letter-spacing="-0.40">3.6</text>
<text x="433.00" y="118.13" font-size="16.67" text-anchor="end" letter-spacing="-0.40">3.8</text>
<text x="433.00" y="64.80" font-size="16.67" text-anchor="end" letter-spacing="-0.40">4.0</text>
<text x="242.20" y="583.40" font-size="16.67" text-anchor="middle">magnitude (bottom:isnt / top:calib)</text>
<text x="579.40" y="583.40" font-size="16.67" text-anchor="middle">number of sources</text>
<text x="63.30" y="300.30" font-size="16.67" text-anchor="middle" transform="rotate(-90 63.30 300.30)">FWHM (pix)</text>
<text x="396.30" y="300.30" font-size="16.67" text-anchor="middle" transform="rotate(-90 396.30 300.30)">FWHM of best-effort PSF-like sources</text>
<text x="226.60" y="28.50" font-size="20.00" text-anchor="middle">FWHM vs magnitudes</text>
<text x="579.60" y="52.70" font-size="20.00" text-anchor="middle">histogram of FWHM</text>
</g>
<rect x="27.7" y="70.6" width="344.9" height="179.9" fill="#fff" stroke="#000" stroke-width="1.39"/>
<path d="M37.0 86.5h9M41.5 82.0v9M65.0 86.5h9M69.5 82.0v9" stroke="#00bfbf" stroke-width="0.82" fill="none"/>
<path d="M37.4 111.2l8.3 8.3M37.4 119.5l8.3 -8.3M65.5 111.2l8.3 8.3M65.5 119.5l8.3 -8.3" stroke="#0000ff" stroke-width="0.95" fill="none"/>
<circle cx="41.6" cy="144.4" r="4.17" fill="#bf00bf" stroke="#000" stroke-width="0.69"/>
<circle cx="69.7" cy="144.4" r="4.17" fill="#bf00bf" stroke="#000" stroke-width="0.69"/>
<path d="M41.3 173.5H69.7" stroke="#00f" stroke-width="1.39" stroke-dasharray="8.33 8.33" fill="none"/>
<path d="M41.3 202.5H69.7" stroke="#f00" stroke-width="1.39" stroke-dasharray="8.33 8.33" fill="none"/>
<path d="M41.3 231.6H69.7" stroke="#00f" stroke-width="1.39" stroke-dasharray="4.17 6.94 1.39 6.94" fill="none"/>
<g font-family="'DejaVu Sans','Liberation Sans',sans-serif" fill="#000" style="mix-blend-mode:multiply">
<text x="90.90" y="92.60" font-size="20.00" text-anchor="start">all sample</text>
<text x="90.90" y="121.66" font-size="20.00" text-anchor="start">sample for rough FWHM</text>
<text x="90.90" y="150.72" font-size="20.00" text-anchor="start">best-effort PSF-like sample</text>
<text x="90.90" y="179.78" font-size="20.00" text-anchor="start">resultant FWHM: 3.05</text>
<text x="90.90" y="208.84" font-size="20.00" text-anchor="start">median FHWM of sequence</text>
<text x="90.90" y="237.90" font-size="20.00" text-anchor="start">sigma range</text>
</g>
</svg>
</body></html>
